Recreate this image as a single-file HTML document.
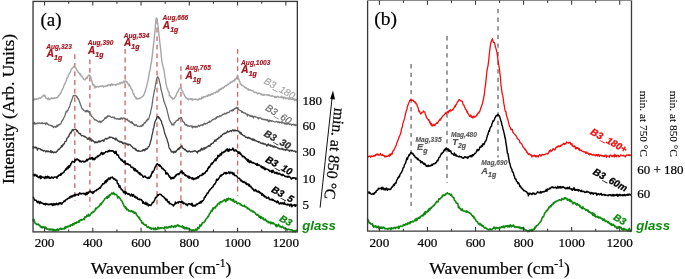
<!DOCTYPE html><html><head><meta charset="utf-8"><style>html,body{margin:0;padding:0;background:#fff;}svg{display:block;filter:blur(0.4px)}</style></head><body>
<svg width="685" height="279" viewBox="0 0 685 279">
<rect width="685" height="279" fill="#fff"/>
<line x1="74.80" y1="54.3" x2="74.80" y2="201" stroke="#cf6466" stroke-width="1.3" stroke-dasharray="4.8,3.8"/>
<line x1="89.90" y1="59.4" x2="89.90" y2="206.5" stroke="#cf6466" stroke-width="1.3" stroke-dasharray="4.8,3.8"/>
<line x1="125.10" y1="49" x2="125.10" y2="195.6" stroke="#cf6466" stroke-width="1.3" stroke-dasharray="4.8,3.8"/>
<line x1="157.00" y1="19" x2="157.00" y2="208.5" stroke="#cf6466" stroke-width="1.3" stroke-dasharray="4.8,3.8"/>
<line x1="180.90" y1="66.2" x2="180.90" y2="212.8" stroke="#cf6466" stroke-width="1.3" stroke-dasharray="4.8,3.8"/>
<line x1="237.60" y1="49" x2="237.60" y2="196" stroke="#cf6466" stroke-width="1.3" stroke-dasharray="4.8,3.8"/>
<line x1="411.10" y1="64.1" x2="411.10" y2="210.5" stroke="#7e7e7e" stroke-width="1.5" stroke-dasharray="4.3,4.3"/>
<line x1="447.00" y1="36.1" x2="447.00" y2="183" stroke="#7e7e7e" stroke-width="1.5" stroke-dasharray="4.3,4.3"/>
<line x1="498.00" y1="9.0" x2="498.00" y2="157.5" stroke="#7e7e7e" stroke-width="1.5" stroke-dasharray="4.3,4.3"/>
<path d="M32.90,99.97 33.40,100.09 33.90,99.73 34.40,98.79 34.90,99.77 35.40,99.42 35.90,98.81 36.40,99.24 36.90,99.01 37.40,98.85 37.90,98.61 38.40,98.77 38.90,98.03 39.40,98.22 39.90,97.94 40.40,98.35 40.90,97.90 41.40,97.54 41.90,96.97 42.40,96.54 42.90,95.85 43.40,95.06 43.90,95.67 44.40,96.08 44.90,95.24 45.40,96.69 45.90,98.17 46.40,98.16 46.90,98.56 47.40,98.64 47.90,99.64 48.40,98.07 48.90,98.47 49.40,99.71 49.90,99.02 50.40,99.03 50.90,98.43 51.40,97.83 51.90,98.70 52.40,98.62 52.90,97.88 53.40,98.08 53.90,98.29 54.40,97.75 54.90,98.06 55.40,98.03 55.90,97.86 56.40,97.44 56.90,97.82 57.40,97.65 57.90,96.91 58.40,95.78 58.90,95.91 59.40,94.60 59.90,94.58 60.40,92.86 60.90,92.99 61.40,91.57 61.90,89.93 62.40,89.34 62.90,88.45 63.40,87.49 63.90,85.73 64.40,84.49 64.90,83.94 65.40,82.39 65.90,81.54 66.40,80.61 66.90,78.22 67.40,77.94 67.90,77.19 68.40,75.23 68.90,73.85 69.40,73.63 69.90,72.50 70.40,71.93 70.90,70.40 71.40,68.95 71.90,68.81 72.40,67.92 72.90,67.92 73.40,67.19 73.90,66.03 74.40,66.23 74.90,67.52 75.40,67.89 75.90,67.88 76.40,68.96 76.90,70.01 77.40,70.84 77.90,71.82 78.40,72.19 78.90,72.71 79.40,73.35 79.90,74.74 80.40,73.81 80.90,75.57 81.40,76.31 81.90,76.18 82.40,77.63 82.90,77.76 83.40,79.09 83.90,79.06 84.40,79.71 84.90,79.96 85.40,79.30 85.90,78.25 86.40,77.42 86.90,78.50 87.40,77.04 87.90,76.18 88.40,75.88 88.90,75.06 89.40,75.24 89.90,75.18 90.40,76.40 90.90,77.70 91.40,79.94 91.90,80.75 92.40,83.31 92.90,85.09 93.40,84.35 93.90,84.57 94.40,86.68 94.90,88.03 95.40,86.40 95.90,86.26 96.40,87.16 96.90,86.40 97.40,86.52 97.90,86.54 98.40,86.92 98.90,86.40 99.40,86.69 99.90,86.42 100.40,86.05 100.90,86.29 101.40,85.96 101.90,86.41 102.40,85.83 102.90,85.82 103.40,87.07 103.90,86.28 104.40,86.23 104.90,86.45 105.40,85.90 105.90,85.89 106.40,86.11 106.90,85.92 107.40,85.07 107.90,85.94 108.40,85.11 108.90,84.75 109.40,84.72 109.90,84.88 110.40,85.81 110.90,84.35 111.40,84.96 111.90,83.76 112.40,84.78 112.90,85.18 113.40,84.56 113.90,84.32 114.40,84.69 114.90,84.86 115.40,84.78 115.90,85.36 116.40,84.41 116.90,83.93 117.40,84.08 117.90,84.01 118.40,84.00 118.90,83.81 119.40,83.77 119.90,82.66 120.40,83.69 120.90,82.75 121.40,82.20 121.90,82.87 122.40,82.94 122.90,82.20 123.40,81.72 123.90,80.93 124.40,82.74 124.90,81.79 125.40,80.93 125.90,81.31 126.40,81.99 126.90,81.52 127.40,82.94 127.90,83.32 128.40,84.89 128.90,85.45 129.40,84.31 129.90,86.42 130.40,86.35 130.90,88.52 131.40,88.91 131.90,90.02 132.40,90.22 132.90,92.74 133.40,93.98 133.90,93.62 134.40,95.79 134.90,96.63 135.40,97.46 135.90,97.24 136.40,99.15 136.90,98.00 137.40,98.54 137.90,99.08 138.40,98.57 138.90,98.76 139.40,98.47 139.90,98.47 140.40,97.66 140.90,97.70 141.40,97.47 141.90,97.02 142.40,96.72 142.90,95.94 143.40,95.76 143.90,94.41 144.40,93.53 144.90,91.99 145.40,90.55 145.90,88.51 146.40,87.62 146.90,84.85 147.40,82.81 147.90,80.94 148.40,78.50 148.90,75.60 149.40,72.18 149.90,70.74 150.40,68.03 150.90,64.47 151.40,62.54 151.90,58.49 152.40,54.44 152.90,50.05 153.40,45.50 153.90,41.51 154.40,36.10 154.90,32.31 155.40,25.63 155.90,20.32 156.40,17.94 156.90,18.35 157.40,21.57 157.90,24.65 158.40,29.29 158.90,34.29 159.40,38.23 159.90,43.11 160.40,46.85 160.90,51.57 161.40,57.13 161.90,61.57 162.40,63.93 162.90,65.61 163.40,68.26 163.90,69.47 164.40,72.84 164.90,76.71 165.40,79.35 165.90,83.09 166.40,85.47 166.90,87.81 167.40,88.52 167.90,90.10 168.40,91.91 168.90,91.83 169.40,95.92 169.90,95.23 170.40,96.19 170.90,97.63 171.40,97.68 171.90,97.26 172.40,98.84 172.90,99.21 173.40,98.67 173.90,98.64 174.40,98.59 174.90,97.20 175.40,97.00 175.90,95.91 176.40,94.47 176.90,93.16 177.40,92.80 177.90,91.26 178.40,90.90 178.90,89.30 179.40,88.82 179.90,88.27 180.40,88.42 180.90,88.07 181.40,89.22 181.90,90.74 182.40,90.96 182.90,92.12 183.40,93.42 183.90,94.16 184.40,94.94 184.90,96.19 185.40,96.70 185.90,98.13 186.40,97.84 186.90,98.40 187.40,99.06 187.90,98.73 188.40,99.81 188.90,98.88 189.40,98.85 189.90,99.12 190.40,99.29 190.90,98.69 191.40,99.41 191.90,98.63 192.40,100.19 192.90,99.48 193.40,99.22 193.90,99.10 194.40,99.38 194.90,99.47 195.40,99.07 195.90,99.14 196.40,99.51 196.90,99.32 197.40,100.00 197.90,100.02 198.40,99.36 198.90,99.45 199.40,98.40 199.90,99.22 200.40,98.70 200.90,98.76 201.40,99.11 201.90,96.95 202.40,98.01 202.90,97.11 203.40,97.74 203.90,96.58 204.40,96.78 204.90,96.94 205.40,96.96 205.90,96.50 206.40,95.88 206.90,95.81 207.40,96.34 207.90,95.70 208.40,94.67 208.90,95.73 209.40,95.32 209.90,95.34 210.40,94.53 210.90,94.90 211.40,93.74 211.90,94.34 212.40,93.59 212.90,93.94 213.40,93.88 213.90,92.77 214.40,92.87 214.90,92.67 215.40,93.00 215.90,92.50 216.40,91.27 216.90,91.83 217.40,91.69 217.90,92.08 218.40,89.87 218.90,90.13 219.40,90.74 219.90,89.07 220.40,88.82 220.90,89.34 221.40,89.25 221.90,88.06 222.40,88.32 222.90,87.77 223.40,88.12 223.90,87.02 224.40,87.18 224.90,85.89 225.40,85.92 225.90,85.64 226.40,85.93 226.90,85.34 227.40,84.36 227.90,84.77 228.40,84.50 228.90,83.75 229.40,83.37 229.90,83.09 230.40,82.03 230.90,82.66 231.40,82.37 231.90,81.53 232.40,82.05 232.90,80.69 233.40,80.77 233.90,80.44 234.40,81.26 234.90,78.99 235.40,79.53 235.90,79.10 236.40,77.91 236.90,77.20 237.40,75.73 237.90,76.02 238.40,78.94 238.90,79.22 239.40,81.06 239.90,81.97 240.40,84.09 240.90,84.60 241.40,84.31 241.90,85.54 242.40,85.51 242.90,85.71 243.40,86.13 243.90,86.33 244.40,87.09 244.90,87.28 245.40,87.29 245.90,88.29 246.40,87.79 246.90,88.54 247.40,88.89 247.90,89.69 248.40,88.95 248.90,90.32 249.40,89.78 249.90,89.83 250.40,89.83 250.90,90.68 251.40,90.64 251.90,90.28 252.40,90.49 252.90,90.98 253.40,91.13 253.90,92.21 254.40,92.54 254.90,92.48 255.40,92.41 255.90,92.19 256.40,92.60 256.90,93.18 257.40,93.96 257.90,93.50 258.40,93.05 258.90,93.35 259.40,93.22 259.90,93.20 260.40,93.62 260.90,93.93 261.40,94.86 261.90,94.08 262.40,94.84 262.90,95.15 263.40,94.41 263.90,95.27 264.40,94.92 264.90,94.45 265.40,94.89 265.90,94.86 266.40,94.82 266.90,94.93 267.40,95.19 267.90,95.43 268.40,94.86 268.90,95.39 269.40,94.72 269.90,95.70 270.40,95.97 270.90,95.83 271.40,95.98 271.90,96.22 272.40,95.68 272.90,95.97 273.40,96.43 273.90,96.76 274.40,96.54 274.90,97.70 275.40,96.46 275.90,97.09 276.40,97.30 276.90,96.68 277.40,96.41 277.90,96.31 278.40,97.06 278.90,97.61 279.40,97.27 279.90,97.30 280.40,97.10 280.90,97.65 281.40,96.38 281.90,97.64 282.40,97.61 282.90,96.99 283.40,98.84 283.90,97.14 284.40,97.37 284.90,97.39 285.40,98.62 285.90,97.70 286.40,98.55 286.90,98.58 287.40,98.50 287.90,97.79 288.40,98.21 288.90,99.43 289.40,98.02 289.90,98.33 290.40,98.73 290.90,99.29 291.40,99.09 291.90,99.41 292.40,98.58 292.90,99.66 293.40,99.54 293.90,98.53 294.40,100.17 294.90,100.62 295.40,99.16 295.90,99.64 296.40,100.39 296.90,99.02" fill="none" stroke="#a6a6a6" stroke-width="1.4" stroke-linejoin="round"/>
<path d="M32.90,123.79 33.40,123.37 33.90,123.37 34.40,122.30 34.90,124.37 35.40,124.00 35.90,123.23 36.40,123.74 36.90,123.47 37.40,123.02 37.90,123.77 38.40,123.11 38.90,123.08 39.40,122.84 39.90,123.45 40.40,123.17 40.90,123.48 41.40,122.90 41.90,123.27 42.40,122.75 42.90,123.62 43.40,123.29 43.90,123.37 44.40,123.43 44.90,122.79 45.40,123.78 45.90,124.54 46.40,122.84 46.90,122.97 47.40,123.26 47.90,124.62 48.40,124.46 48.90,125.13 49.40,125.14 49.90,125.07 50.40,125.30 50.90,125.31 51.40,126.10 51.90,125.39 52.40,126.02 52.90,126.60 53.40,127.59 53.90,126.45 54.40,126.36 54.90,126.59 55.40,127.25 55.90,126.49 56.40,127.05 56.90,125.19 57.40,126.41 57.90,126.08 58.40,124.53 58.90,124.93 59.40,125.00 59.90,123.91 60.40,123.78 60.90,123.83 61.40,122.10 61.90,121.11 62.40,120.11 62.90,120.04 63.40,118.78 63.90,117.77 64.40,116.65 64.90,115.82 65.40,113.77 65.90,112.44 66.40,111.02 66.90,111.97 67.40,110.59 67.90,110.49 68.40,108.89 68.90,107.61 69.40,107.19 69.90,105.68 70.40,103.51 70.90,101.94 71.40,101.57 71.90,99.42 72.40,98.24 72.90,96.68 73.40,95.53 73.90,95.95 74.40,95.48 74.90,95.25 75.40,95.71 75.90,95.51 76.40,96.34 76.90,97.31 77.40,97.01 77.90,98.92 78.40,98.73 78.90,100.27 79.40,101.11 79.90,102.82 80.40,104.29 80.90,105.57 81.40,107.04 81.90,108.44 82.40,109.21 82.90,109.12 83.40,109.97 83.90,110.44 84.40,110.82 84.90,110.80 85.40,111.81 85.90,110.83 86.40,110.52 86.90,111.77 87.40,110.44 87.90,111.68 88.40,111.11 88.90,112.26 89.40,111.62 89.90,113.71 90.40,113.95 90.90,114.37 91.40,116.50 91.90,116.76 92.40,117.01 92.90,117.20 93.40,118.11 93.90,118.59 94.40,119.52 94.90,120.01 95.40,119.67 95.90,120.11 96.40,120.51 96.90,120.44 97.40,121.08 97.90,121.45 98.40,121.85 98.90,122.16 99.40,121.10 99.90,121.78 100.40,121.28 100.90,122.54 101.40,121.48 101.90,121.74 102.40,120.83 102.90,120.47 103.40,120.42 103.90,119.51 104.40,119.27 104.90,117.80 105.40,118.49 105.90,117.25 106.40,118.10 106.90,116.67 107.40,117.03 107.90,115.56 108.40,116.42 108.90,115.80 109.40,116.10 109.90,116.49 110.40,116.48 110.90,116.94 111.40,117.34 111.90,117.47 112.40,117.31 112.90,116.90 113.40,117.42 113.90,117.94 114.40,117.16 114.90,118.72 115.40,118.35 115.90,118.46 116.40,119.16 116.90,119.12 117.40,118.98 117.90,118.44 118.40,119.14 118.90,119.17 119.40,118.55 119.90,119.47 120.40,119.14 120.90,117.82 121.40,118.77 121.90,117.98 122.40,119.09 122.90,118.84 123.40,117.81 123.90,117.87 124.40,118.35 124.90,118.26 125.40,119.36 125.90,119.29 126.40,119.16 126.90,119.99 127.40,119.08 127.90,120.60 128.40,121.16 128.90,120.90 129.40,120.88 129.90,121.77 130.40,122.72 130.90,122.11 131.40,121.73 131.90,123.32 132.40,122.04 132.90,123.68 133.40,123.62 133.90,124.84 134.40,124.35 134.90,125.72 135.40,125.39 135.90,124.55 136.40,124.60 136.90,125.58 137.40,126.52 137.90,126.06 138.40,126.13 138.90,126.07 139.40,126.62 139.90,126.48 140.40,126.44 140.90,125.70 141.40,126.50 141.90,126.18 142.40,124.38 142.90,125.71 143.40,124.49 143.90,123.46 144.40,122.31 144.90,123.11 145.40,122.55 145.90,121.43 146.40,120.23 146.90,121.04 147.40,119.49 147.90,118.79 148.40,119.60 148.90,118.28 149.40,116.60 149.90,114.63 150.40,113.51 150.90,110.00 151.40,108.87 151.90,105.88 152.40,102.35 152.90,98.53 153.40,96.26 153.90,93.27 154.40,90.73 154.90,88.66 155.40,85.52 155.90,82.92 156.40,80.00 156.90,78.35 157.40,77.37 157.90,76.72 158.40,78.05 158.90,78.84 159.40,81.33 159.90,83.44 160.40,85.27 160.90,89.00 161.40,90.86 161.90,92.47 162.40,94.76 162.90,97.21 163.40,98.53 163.90,101.35 164.40,102.17 164.90,104.04 165.40,104.98 165.90,106.56 166.40,107.67 166.90,109.49 167.40,111.90 167.90,113.96 168.40,115.87 168.90,117.73 169.40,120.01 169.90,120.98 170.40,121.45 170.90,122.84 171.40,122.98 171.90,124.76 172.40,124.83 172.90,124.11 173.40,125.09 173.90,124.78 174.40,122.53 174.90,122.90 175.40,122.42 175.90,121.13 176.40,120.93 176.90,120.30 177.40,120.32 177.90,119.56 178.40,120.20 178.90,118.26 179.40,118.64 179.90,117.86 180.40,117.99 180.90,117.58 181.40,117.71 181.90,118.91 182.40,120.34 182.90,121.39 183.40,121.61 183.90,122.42 184.40,122.65 184.90,124.65 185.40,125.16 185.90,124.53 186.40,125.01 186.90,124.76 187.40,126.20 187.90,125.86 188.40,125.80 188.90,126.21 189.40,126.39 189.90,126.10 190.40,125.81 190.90,125.90 191.40,125.77 191.90,126.95 192.40,127.90 192.90,125.99 193.40,126.94 193.90,127.10 194.40,126.41 194.90,126.99 195.40,126.29 195.90,127.38 196.40,126.41 196.90,126.65 197.40,126.83 197.90,126.14 198.40,125.32 198.90,125.79 199.40,126.27 199.90,125.67 200.40,125.64 200.90,124.79 201.40,125.21 201.90,125.30 202.40,124.75 202.90,125.48 203.40,124.22 203.90,123.61 204.40,123.12 204.90,124.31 205.40,123.52 205.90,123.85 206.40,123.36 206.90,123.73 207.40,123.32 207.90,122.26 208.40,122.34 208.90,122.50 209.40,121.08 209.90,122.16 210.40,121.78 210.90,121.40 211.40,120.54 211.90,120.52 212.40,119.54 212.90,119.85 213.40,119.26 213.90,119.33 214.40,118.78 214.90,118.90 215.40,119.09 215.90,117.59 216.40,118.46 216.90,116.75 217.40,116.41 217.90,117.17 218.40,116.98 218.90,116.93 219.40,115.63 219.90,116.17 220.40,116.00 220.90,116.31 221.40,115.37 221.90,115.43 222.40,114.42 222.90,114.56 223.40,114.18 223.90,114.50 224.40,113.41 224.90,113.24 225.40,113.71 225.90,114.08 226.40,113.14 226.90,112.87 227.40,112.32 227.90,112.82 228.40,112.33 228.90,112.71 229.40,111.80 229.90,110.94 230.40,110.92 230.90,110.50 231.40,110.14 231.90,111.18 232.40,110.70 232.90,109.40 233.40,110.60 233.90,109.51 234.40,108.60 234.90,108.98 235.40,108.51 235.90,107.96 236.40,107.26 236.90,108.22 237.40,108.50 237.90,107.37 238.40,109.35 238.90,109.86 239.40,109.78 239.90,110.49 240.40,110.64 240.90,110.71 241.40,111.29 241.90,112.49 242.40,111.42 242.90,112.57 243.40,112.83 243.90,112.65 244.40,113.03 244.90,112.78 245.40,113.28 245.90,113.94 246.40,114.30 246.90,113.89 247.40,116.06 247.90,114.44 248.40,114.98 248.90,114.98 249.40,115.08 249.90,116.11 250.40,115.40 250.90,116.49 251.40,116.57 251.90,115.65 252.40,116.87 252.90,116.20 253.40,118.06 253.90,116.66 254.40,116.55 254.90,116.23 255.40,116.69 255.90,117.20 256.40,117.14 256.90,117.17 257.40,117.58 257.90,117.96 258.40,118.92 258.90,117.47 259.40,118.17 259.90,118.09 260.40,117.93 260.90,118.16 261.40,118.45 261.90,119.37 262.40,119.02 262.90,118.95 263.40,119.63 263.90,119.56 264.40,119.41 264.90,119.81 265.40,119.30 265.90,120.12 266.40,120.13 266.90,119.79 267.40,119.48 267.90,120.95 268.40,120.33 268.90,121.91 269.40,120.15 269.90,121.01 270.40,120.46 270.90,120.91 271.40,121.30 271.90,120.58 272.40,121.03 272.90,121.26 273.40,121.34 273.90,121.68 274.40,121.99 274.90,121.99 275.40,121.81 275.90,121.60 276.40,121.30 276.90,121.60 277.40,121.80 277.90,122.50 278.40,122.07 278.90,121.72 279.40,122.75 279.90,122.13 280.40,122.24 280.90,122.59 281.40,123.03 281.90,121.68 282.40,122.41 282.90,123.15 283.40,122.97 283.90,122.81 284.40,123.06 284.90,124.11 285.40,123.27 285.90,123.94 286.40,124.07 286.90,123.53 287.40,124.06 287.90,123.70 288.40,123.70 288.90,123.53 289.40,124.61 289.90,124.06 290.40,124.06 290.90,123.86 291.40,125.41 291.90,124.95 292.40,124.60 292.90,124.39 293.40,124.06 293.90,125.04 294.40,125.12 294.90,124.35 295.40,125.71 295.90,125.59 296.40,124.80 296.90,125.08" fill="none" stroke="#666666" stroke-width="1.25" stroke-linejoin="round"/>
<path d="M32.90,148.62 33.40,146.16 33.90,147.87 34.40,147.41 34.90,147.57 35.40,147.79 35.90,146.90 36.40,148.00 36.90,147.76 37.40,150.18 37.90,148.60 38.40,148.41 38.90,148.61 39.40,148.56 39.90,148.53 40.40,149.09 40.90,149.77 41.40,149.57 41.90,150.42 42.40,149.96 42.90,150.26 43.40,151.24 43.90,150.82 44.40,150.36 44.90,150.65 45.40,151.15 45.90,152.01 46.40,150.89 46.90,150.99 47.40,151.77 47.90,150.81 48.40,151.23 48.90,151.97 49.40,151.90 49.90,151.74 50.40,152.18 50.90,150.37 51.40,152.61 51.90,151.63 52.40,151.35 52.90,152.51 53.40,152.81 53.90,152.23 54.40,151.91 54.90,152.46 55.40,152.20 55.90,152.66 56.40,151.88 56.90,151.11 57.40,151.14 57.90,149.97 58.40,149.17 58.90,149.59 59.40,149.17 59.90,148.30 60.40,147.55 60.90,147.64 61.40,145.66 61.90,146.91 62.40,146.27 62.90,144.53 63.40,144.86 63.90,143.63 64.40,143.84 64.90,141.52 65.40,141.33 65.90,141.39 66.40,140.80 66.90,138.13 67.40,138.13 67.90,137.64 68.40,136.17 68.90,136.46 69.40,134.07 69.90,134.12 70.40,132.57 70.90,133.18 71.40,131.70 71.90,130.90 72.40,129.60 72.90,130.89 73.40,129.86 73.90,129.51 74.40,129.63 74.90,129.36 75.40,129.15 75.90,129.50 76.40,130.00 76.90,131.67 77.40,130.57 77.90,131.58 78.40,132.30 78.90,133.18 79.40,133.92 79.90,133.40 80.40,133.52 80.90,134.78 81.40,135.73 81.90,135.73 82.40,135.66 82.90,135.59 83.40,136.15 83.90,136.08 84.40,136.90 84.90,136.26 85.40,137.02 85.90,137.13 86.40,137.73 86.90,137.80 87.40,139.33 87.90,139.00 88.40,139.26 88.90,137.58 89.40,138.80 89.90,138.95 90.40,139.88 90.90,138.64 91.40,140.83 91.90,141.04 92.40,139.99 92.90,140.44 93.40,140.81 93.90,141.53 94.40,142.06 94.90,142.97 95.40,141.79 95.90,142.31 96.40,141.95 96.90,142.79 97.40,142.18 97.90,142.46 98.40,141.03 98.90,141.43 99.40,140.99 99.90,142.17 100.40,141.59 100.90,140.95 101.40,140.75 101.90,141.14 102.40,140.33 102.90,140.00 103.40,140.54 103.90,141.37 104.40,139.62 104.90,139.19 105.40,138.61 105.90,138.30 106.40,139.13 106.90,139.10 107.40,138.43 107.90,138.40 108.40,138.08 108.90,137.93 109.40,136.88 109.90,137.38 110.40,137.66 110.90,137.19 111.40,137.42 111.90,137.32 112.40,137.70 112.90,138.48 113.40,137.93 113.90,138.23 114.40,138.92 114.90,139.00 115.40,139.79 115.90,137.97 116.40,139.88 116.90,139.45 117.40,140.09 117.90,140.78 118.40,141.20 118.90,141.43 119.40,141.16 119.90,142.17 120.40,141.33 120.90,141.60 121.40,142.31 121.90,141.75 122.40,143.43 122.90,142.98 123.40,143.81 123.90,142.79 124.40,142.79 124.90,143.29 125.40,143.79 125.90,143.25 126.40,143.96 126.90,143.92 127.40,145.00 127.90,143.93 128.40,145.06 128.90,144.33 129.40,144.36 129.90,144.73 130.40,144.70 130.90,145.70 131.40,146.46 131.90,146.29 132.40,146.94 132.90,148.02 133.40,147.87 133.90,148.41 134.40,148.68 134.90,148.36 135.40,149.94 135.90,148.83 136.40,150.43 136.90,150.31 137.40,151.17 137.90,150.72 138.40,150.49 138.90,151.29 139.40,150.90 139.90,151.18 140.40,151.32 140.90,151.20 141.40,151.11 141.90,150.65 142.40,150.87 142.90,149.63 143.40,150.53 143.90,149.74 144.40,150.79 144.90,150.64 145.40,148.62 145.90,149.53 146.40,149.11 146.90,148.28 147.40,148.77 147.90,147.78 148.40,146.53 148.90,146.59 149.40,145.58 149.90,144.29 150.40,141.78 150.90,140.80 151.40,138.75 151.90,135.59 152.40,133.65 152.90,131.46 153.40,128.60 153.90,127.40 154.40,124.43 154.90,122.14 155.40,120.72 155.90,119.65 156.40,119.63 156.90,117.23 157.40,116.75 157.90,116.79 158.40,116.69 158.90,118.42 159.40,117.53 159.90,119.03 160.40,119.59 160.90,120.76 161.40,120.81 161.90,123.80 162.40,124.39 162.90,126.26 163.40,127.58 163.90,129.53 164.40,131.97 164.90,133.75 165.40,135.04 165.90,136.64 166.40,137.71 166.90,138.73 167.40,140.68 167.90,142.22 168.40,143.89 168.90,146.91 169.40,148.37 169.90,148.77 170.40,149.33 170.90,150.68 171.40,151.98 171.90,151.34 172.40,151.79 172.90,152.02 173.40,152.87 173.90,151.16 174.40,152.24 174.90,152.49 175.40,151.10 175.90,152.03 176.40,151.11 176.90,150.10 177.40,150.06 177.90,148.65 178.40,148.73 178.90,149.60 179.40,147.53 179.90,148.31 180.40,146.61 180.90,146.86 181.40,146.50 181.90,145.80 182.40,147.45 182.90,148.51 183.40,148.23 183.90,148.56 184.40,149.91 184.90,149.71 185.40,149.43 185.90,150.20 186.40,151.25 186.90,150.69 187.40,151.64 187.90,152.12 188.40,151.42 188.90,150.88 189.40,150.85 189.90,151.58 190.40,152.08 190.90,151.75 191.40,151.90 191.90,151.36 192.40,151.77 192.90,151.34 193.40,151.42 193.90,150.89 194.40,150.74 194.90,151.33 195.40,150.99 195.90,151.07 196.40,151.95 196.90,151.47 197.40,153.03 197.90,151.81 198.40,150.79 198.90,151.38 199.40,150.93 199.90,150.13 200.40,150.88 200.90,149.60 201.40,148.09 201.90,149.96 202.40,148.94 202.90,149.86 203.40,148.46 203.90,147.93 204.40,149.18 204.90,147.48 205.40,147.91 205.90,148.32 206.40,147.31 206.90,146.91 207.40,146.71 207.90,146.81 208.40,145.59 208.90,146.05 209.40,145.71 209.90,146.35 210.40,144.54 210.90,143.87 211.40,144.41 211.90,143.40 212.40,143.39 212.90,142.90 213.40,143.07 213.90,141.66 214.40,141.56 214.90,139.81 215.40,140.32 215.90,141.27 216.40,139.65 216.90,139.22 217.40,138.51 217.90,139.06 218.40,138.39 218.90,137.19 219.40,137.75 219.90,137.07 220.40,136.89 220.90,135.68 221.40,136.55 221.90,135.40 222.40,134.70 222.90,134.08 223.40,133.86 223.90,134.12 224.40,133.17 224.90,133.62 225.40,133.08 225.90,133.27 226.40,132.78 226.90,132.13 227.40,130.95 227.90,132.01 228.40,132.12 228.90,131.62 229.40,131.68 229.90,130.97 230.40,130.88 230.90,130.44 231.40,131.58 231.90,130.80 232.40,130.33 232.90,129.77 233.40,130.33 233.90,131.12 234.40,130.51 234.90,129.80 235.40,130.94 235.90,130.91 236.40,130.64 236.90,130.54 237.40,130.89 237.90,130.86 238.40,131.41 238.90,131.05 239.40,132.79 239.90,132.55 240.40,133.94 240.90,132.13 241.40,134.08 241.90,134.67 242.40,134.37 242.90,135.20 243.40,135.72 243.90,135.94 244.40,135.61 244.90,136.11 245.40,137.02 245.90,137.43 246.40,137.04 246.90,137.27 247.40,137.58 247.90,138.28 248.40,137.36 248.90,137.43 249.40,138.45 249.90,137.99 250.40,138.48 250.90,139.06 251.40,139.47 251.90,138.82 252.40,140.04 252.90,138.81 253.40,140.27 253.90,139.29 254.40,139.64 254.90,140.87 255.40,140.47 255.90,140.44 256.40,140.81 256.90,141.48 257.40,141.37 257.90,141.56 258.40,142.34 258.90,141.54 259.40,141.85 259.90,142.00 260.40,143.11 260.90,143.19 261.40,143.52 261.90,142.97 262.40,143.07 262.90,143.80 263.40,143.28 263.90,144.13 264.40,144.23 264.90,143.62 265.40,144.12 265.90,144.27 266.40,145.45 266.90,146.08 267.40,144.76 267.90,144.98 268.40,143.88 268.90,145.40 269.40,145.44 269.90,145.00 270.40,146.18 270.90,145.04 271.40,145.93 271.90,146.27 272.40,145.65 272.90,146.95 273.40,147.20 273.90,146.00 274.40,146.13 274.90,147.37 275.40,147.16 275.90,146.64 276.40,147.28 276.90,147.51 277.40,147.62 277.90,148.28 278.40,148.16 278.90,149.04 279.40,148.94 279.90,148.68 280.40,149.02 280.90,149.27 281.40,149.04 281.90,148.09 282.40,149.35 282.90,149.03 283.40,149.99 283.90,149.26 284.40,149.60 284.90,149.60 285.40,150.45 285.90,149.72 286.40,149.58 286.90,150.00 287.40,149.69 287.90,150.12 288.40,150.12 288.90,150.37 289.40,151.37 289.90,150.19 290.40,150.52 290.90,150.48 291.40,151.05 291.90,150.12 292.40,150.47 292.90,150.92 293.40,151.32 293.90,151.08 294.40,150.91 294.90,150.78 295.40,151.62 295.90,152.21 296.40,151.66 296.90,151.66" fill="none" stroke="#3c3c3c" stroke-width="1.3" stroke-linejoin="round"/>
<path d="M32.90,173.98 33.40,174.54 33.90,175.98 34.40,175.57 34.90,174.30 35.40,175.59 35.90,175.39 36.40,176.09 36.90,175.12 37.40,176.49 37.90,176.63 38.40,177.63 38.90,176.95 39.40,177.20 39.90,176.03 40.40,178.59 40.90,175.99 41.40,178.06 41.90,177.22 42.40,176.93 42.90,177.13 43.40,177.15 43.90,177.85 44.40,177.53 44.90,178.56 45.40,176.41 45.90,177.60 46.40,177.02 46.90,178.10 47.40,176.22 47.90,177.38 48.40,177.74 48.90,176.64 49.40,178.24 49.90,177.72 50.40,178.25 50.90,178.22 51.40,176.96 51.90,177.08 52.40,177.47 52.90,178.09 53.40,178.15 53.90,177.14 54.40,177.21 54.90,177.06 55.40,177.11 55.90,177.19 56.40,177.06 56.90,178.25 57.40,176.31 57.90,176.16 58.40,176.33 58.90,175.09 59.40,175.14 59.90,175.07 60.40,175.24 60.90,173.51 61.40,174.85 61.90,173.29 62.40,173.17 62.90,173.14 63.40,172.54 63.90,172.27 64.40,171.14 64.90,170.44 65.40,170.09 65.90,168.68 66.40,169.59 66.90,167.81 67.40,167.03 67.90,168.74 68.40,166.86 68.90,165.73 69.40,167.21 69.90,165.26 70.40,165.57 70.90,163.73 71.40,163.50 71.90,162.01 72.40,161.37 72.90,161.51 73.40,161.66 73.90,161.82 74.40,162.43 74.90,159.71 75.40,160.66 75.90,159.41 76.40,159.74 76.90,159.00 77.40,159.19 77.90,159.86 78.40,159.80 78.90,160.74 79.40,160.37 79.90,161.72 80.40,161.07 80.90,161.14 81.40,161.84 81.90,161.49 82.40,161.17 82.90,161.18 83.40,161.19 83.90,161.99 84.40,161.81 84.90,161.51 85.40,161.63 85.90,160.49 86.40,160.85 86.90,159.26 87.40,160.73 87.90,159.60 88.40,159.27 88.90,159.15 89.40,158.45 89.90,158.14 90.40,159.09 90.90,158.44 91.40,157.84 91.90,158.79 92.40,157.46 92.90,159.68 93.40,158.45 93.90,158.44 94.40,159.65 94.90,159.28 95.40,157.61 95.90,157.57 96.40,157.51 96.90,157.55 97.40,156.07 97.90,155.98 98.40,156.43 98.90,155.56 99.40,155.62 99.90,155.27 100.40,153.89 100.90,153.82 101.40,152.43 101.90,153.74 102.40,154.55 102.90,152.74 103.40,154.05 103.90,153.69 104.40,152.80 104.90,152.61 105.40,152.44 105.90,151.60 106.40,151.75 106.90,151.68 107.40,151.90 107.90,151.82 108.40,150.66 108.90,151.54 109.40,150.39 109.90,150.71 110.40,151.04 110.90,150.81 111.40,150.81 111.90,151.18 112.40,150.78 112.90,150.87 113.40,151.33 113.90,152.29 114.40,151.87 114.90,153.51 115.40,152.79 115.90,151.15 116.40,153.25 116.90,155.08 117.40,154.53 117.90,154.87 118.40,155.27 118.90,157.41 119.40,157.89 119.90,158.32 120.40,158.75 120.90,159.98 121.40,160.15 121.90,159.36 122.40,161.18 122.90,161.26 123.40,161.51 123.90,162.47 124.40,162.35 124.90,160.76 125.40,163.99 125.90,163.95 126.40,163.48 126.90,163.59 127.40,164.25 127.90,163.53 128.40,164.84 128.90,164.76 129.40,164.97 129.90,164.90 130.40,165.37 130.90,166.87 131.40,167.38 131.90,167.23 132.40,167.32 132.90,167.31 133.40,168.90 133.90,170.05 134.40,168.49 134.90,170.78 135.40,169.01 135.90,170.58 136.40,171.41 136.90,170.61 137.40,170.83 137.90,172.25 138.40,173.01 138.90,172.44 139.40,173.93 139.90,172.87 140.40,174.84 140.90,174.12 141.40,174.55 141.90,175.17 142.40,175.35 142.90,176.71 143.40,177.30 143.90,176.57 144.40,176.43 144.90,176.08 145.40,176.62 145.90,177.35 146.40,177.51 146.90,177.78 147.40,178.01 147.90,178.47 148.40,177.32 148.90,177.40 149.40,178.41 149.90,177.64 150.40,176.00 150.90,176.34 151.40,174.14 151.90,173.48 152.40,171.55 152.90,172.45 153.40,170.99 153.90,170.62 154.40,169.21 154.90,167.61 155.40,166.51 155.90,166.16 156.40,164.45 156.90,163.91 157.40,163.85 157.90,164.41 158.40,164.70 158.90,165.68 159.40,164.80 159.90,166.15 160.40,165.43 160.90,166.79 161.40,167.01 161.90,168.55 162.40,168.32 162.90,168.17 163.40,169.40 163.90,169.85 164.40,170.03 164.90,170.66 165.40,170.87 165.90,173.89 166.40,172.79 166.90,173.92 167.40,173.08 167.90,173.74 168.40,175.01 168.90,175.69 169.40,176.97 169.90,176.41 170.40,177.93 170.90,178.95 171.40,177.60 171.90,178.81 172.40,177.50 172.90,178.15 173.40,177.88 173.90,178.43 174.40,176.48 174.90,176.64 175.40,176.81 175.90,174.98 176.40,175.38 176.90,174.39 177.40,174.00 177.90,174.37 178.40,173.85 178.90,174.58 179.40,173.37 179.90,172.99 180.40,171.86 180.90,171.75 181.40,172.14 181.90,170.79 182.40,173.65 182.90,172.50 183.40,172.65 183.90,173.46 184.40,174.74 184.90,175.36 185.40,174.69 185.90,175.66 186.40,175.80 186.90,175.64 187.40,176.79 187.90,176.99 188.40,176.19 188.90,178.11 189.40,176.57 189.90,177.94 190.40,177.28 190.90,177.60 191.40,177.82 191.90,178.86 192.40,177.70 192.90,178.48 193.40,179.68 193.90,178.25 194.40,178.69 194.90,179.09 195.40,178.17 195.90,178.69 196.40,177.74 196.90,178.37 197.40,177.67 197.90,176.72 198.40,177.93 198.90,176.63 199.40,176.19 199.90,175.47 200.40,175.47 200.90,175.40 201.40,175.26 201.90,175.52 202.40,173.60 202.90,173.85 203.40,174.47 203.90,173.40 204.40,173.12 204.90,173.44 205.40,172.13 205.90,171.67 206.40,170.74 206.90,171.27 207.40,170.14 207.90,168.31 208.40,168.45 208.90,166.67 209.40,167.46 209.90,166.56 210.40,165.42 210.90,164.67 211.40,163.17 211.90,164.24 212.40,163.08 212.90,162.38 213.40,162.48 213.90,161.01 214.40,160.51 214.90,159.90 215.40,158.94 215.90,160.86 216.40,158.66 216.90,158.05 217.40,158.36 217.90,155.23 218.40,156.77 218.90,156.32 219.40,155.22 219.90,155.71 220.40,153.66 220.90,154.57 221.40,154.74 221.90,152.31 222.40,152.39 222.90,152.82 223.40,152.51 223.90,151.71 224.40,152.01 224.90,151.61 225.40,150.29 225.90,150.86 226.40,149.91 226.90,149.25 227.40,148.89 227.90,151.00 228.40,150.12 228.90,151.36 229.40,149.03 229.90,149.66 230.40,150.02 230.90,149.64 231.40,150.00 231.90,149.73 232.40,149.20 232.90,148.08 233.40,149.00 233.90,150.85 234.40,150.39 234.90,151.00 235.40,149.97 235.90,150.48 236.40,150.29 236.90,151.37 237.40,151.44 237.90,152.02 238.40,153.22 238.90,151.89 239.40,153.30 239.90,152.32 240.40,154.40 240.90,153.87 241.40,154.62 241.90,155.27 242.40,156.76 242.90,156.16 243.40,156.33 243.90,156.32 244.40,157.71 244.90,157.40 245.40,158.05 245.90,158.77 246.40,159.62 246.90,159.10 247.40,160.36 247.90,161.41 248.40,159.60 248.90,161.76 249.40,162.57 249.90,161.07 250.40,162.13 250.90,161.11 251.40,162.49 251.90,162.31 252.40,162.97 252.90,162.42 253.40,162.72 253.90,163.20 254.40,163.26 254.90,163.55 255.40,164.05 255.90,163.68 256.40,164.53 256.90,165.16 257.40,163.57 257.90,165.43 258.40,165.04 258.90,165.02 259.40,165.10 259.90,165.64 260.40,165.93 260.90,166.86 261.40,166.03 261.90,167.75 262.40,166.75 262.90,167.94 263.40,168.42 263.90,167.13 264.40,168.83 264.90,169.77 265.40,168.27 265.90,169.15 266.40,168.90 266.90,169.25 267.40,169.28 267.90,169.28 268.40,170.29 268.90,170.59 269.40,170.22 269.90,171.41 270.40,171.34 270.90,171.29 271.40,170.57 271.90,172.48 272.40,172.31 272.90,170.25 273.40,171.13 273.90,171.75 274.40,172.87 274.90,173.26 275.40,172.46 275.90,173.01 276.40,173.49 276.90,172.40 277.40,173.80 277.90,173.39 278.40,173.89 278.90,173.91 279.40,173.34 279.90,173.63 280.40,174.46 280.90,174.67 281.40,174.57 281.90,175.58 282.40,174.81 282.90,174.40 283.40,175.11 283.90,175.37 284.40,175.55 284.90,176.53 285.40,176.25 285.90,176.74 286.40,176.60 286.90,176.23 287.40,177.15 287.90,176.44 288.40,176.90 288.90,176.22 289.40,177.06 289.90,176.91 290.40,177.49 290.90,178.55 291.40,179.03 291.90,178.27 292.40,177.71 292.90,178.38 293.40,178.10 293.90,177.66 294.40,178.12 294.90,178.11 295.40,177.98 295.90,179.36 296.40,178.21 296.90,178.33" fill="none" stroke="#000000" stroke-width="1.5" stroke-linejoin="round"/>
<path d="M32.90,196.98 33.40,197.26 33.90,198.54 34.40,199.50 34.90,200.45 35.40,200.21 35.90,200.19 36.40,200.41 36.90,201.74 37.40,202.61 37.90,201.98 38.40,201.25 38.90,201.66 39.40,203.54 39.90,202.83 40.40,201.76 40.90,203.01 41.40,202.47 41.90,202.96 42.40,203.20 42.90,203.19 43.40,204.16 43.90,203.91 44.40,203.70 44.90,204.48 45.40,204.88 45.90,203.38 46.40,204.37 46.90,203.98 47.40,204.55 47.90,203.86 48.40,204.71 48.90,204.68 49.40,204.50 49.90,204.02 50.40,204.44 50.90,203.99 51.40,203.82 51.90,204.85 52.40,203.98 52.90,205.46 53.40,205.17 53.90,203.40 54.40,204.88 54.90,203.98 55.40,204.72 55.90,204.70 56.40,203.30 56.90,204.33 57.40,204.17 57.90,204.80 58.40,203.24 58.90,204.31 59.40,202.94 59.90,203.24 60.40,202.69 60.90,203.93 61.40,203.09 61.90,204.03 62.40,202.59 62.90,202.43 63.40,202.15 63.90,200.91 64.40,200.93 64.90,201.51 65.40,200.02 65.90,200.04 66.40,199.54 66.90,199.59 67.40,198.61 67.90,198.42 68.40,198.38 68.90,198.02 69.40,197.13 69.90,198.03 70.40,196.37 70.90,196.21 71.40,195.93 71.90,197.19 72.40,196.12 72.90,195.53 73.40,195.24 73.90,196.08 74.40,194.95 74.90,194.64 75.40,195.69 75.90,194.35 76.40,194.76 76.90,194.80 77.40,194.37 77.90,194.48 78.40,195.25 78.90,193.93 79.40,193.34 79.90,192.88 80.40,193.87 80.90,193.72 81.40,194.07 81.90,193.56 82.40,193.52 82.90,193.34 83.40,193.44 83.90,193.86 84.40,193.48 84.90,193.76 85.40,194.89 85.90,193.91 86.40,192.52 86.90,194.58 87.40,193.45 87.90,192.27 88.40,193.09 88.90,192.14 89.40,191.44 89.90,191.29 90.40,191.09 90.90,191.89 91.40,192.71 91.90,191.96 92.40,192.55 92.90,193.51 93.40,191.42 93.90,192.22 94.40,191.62 94.90,190.84 95.40,190.51 95.90,190.78 96.40,190.66 96.90,189.60 97.40,189.53 97.90,189.51 98.40,188.80 98.90,188.75 99.40,188.06 99.90,187.61 100.40,187.98 100.90,186.66 101.40,185.78 101.90,185.59 102.40,183.97 102.90,183.78 103.40,183.98 103.90,183.36 104.40,183.47 104.90,182.04 105.40,180.70 105.90,182.53 106.40,181.58 106.90,179.78 107.40,180.97 107.90,179.71 108.40,178.13 108.90,178.69 109.40,178.30 109.90,179.38 110.40,177.58 110.90,177.72 111.40,177.55 111.90,177.39 112.40,177.01 112.90,177.89 113.40,178.83 113.90,179.05 114.40,178.60 114.90,178.97 115.40,180.19 115.90,180.02 116.40,180.48 116.90,180.31 117.40,183.46 117.90,183.87 118.40,183.86 118.90,186.26 119.40,187.52 119.90,185.82 120.40,187.68 120.90,188.40 121.40,189.64 121.90,189.66 122.40,190.06 122.90,190.60 123.40,192.24 123.90,192.80 124.40,191.39 124.90,191.45 125.40,194.10 125.90,191.99 126.40,192.52 126.90,193.18 127.40,193.72 127.90,194.31 128.40,194.12 128.90,193.51 129.40,194.60 129.90,194.63 130.40,195.87 130.90,194.83 131.40,194.16 131.90,194.54 132.40,196.37 132.90,195.30 133.40,194.53 133.90,195.78 134.40,196.43 134.90,197.48 135.40,196.32 135.90,197.68 136.40,198.01 136.90,197.27 137.40,197.82 137.90,199.31 138.40,199.50 138.90,199.16 139.40,199.07 139.90,199.85 140.40,199.31 140.90,199.68 141.40,199.58 141.90,200.58 142.40,200.98 142.90,203.31 143.40,201.83 143.90,203.20 144.40,203.59 144.90,202.94 145.40,204.16 145.90,202.33 146.40,204.15 146.90,204.97 147.40,203.16 147.90,204.23 148.40,205.89 148.90,205.21 149.40,204.76 149.90,205.25 150.40,204.97 150.90,205.40 151.40,204.68 151.90,203.55 152.40,202.59 152.90,202.27 153.40,202.49 153.90,201.19 154.40,200.63 154.90,199.32 155.40,197.77 155.90,197.37 156.40,197.57 156.90,196.66 157.40,195.55 157.90,194.64 158.40,195.34 158.90,194.66 159.40,194.33 159.90,194.12 160.40,194.40 160.90,194.43 161.40,195.11 161.90,195.49 162.40,196.28 162.90,196.52 163.40,196.39 163.90,197.15 164.40,198.02 164.90,198.02 165.40,199.11 165.90,200.06 166.40,199.34 166.90,199.25 167.40,201.70 167.90,201.42 168.40,202.32 168.90,201.44 169.40,203.86 169.90,203.63 170.40,203.46 170.90,203.69 171.40,204.35 171.90,204.56 172.40,204.86 172.90,204.55 173.40,206.07 173.90,204.94 174.40,204.58 174.90,204.11 175.40,202.10 175.90,203.70 176.40,202.95 176.90,202.78 177.40,202.83 177.90,201.98 178.40,203.01 178.90,201.87 179.40,201.62 179.90,201.55 180.40,202.15 180.90,202.49 181.40,201.63 181.90,201.15 182.40,203.05 182.90,201.96 183.40,203.75 183.90,203.25 184.40,203.11 184.90,203.36 185.40,204.20 185.90,204.60 186.40,204.00 186.90,204.85 187.40,205.68 187.90,204.27 188.40,203.74 188.90,203.87 189.40,203.72 189.90,204.26 190.40,204.26 190.90,203.92 191.40,205.18 191.90,203.19 192.40,204.08 192.90,206.29 193.40,205.69 193.90,205.39 194.40,205.37 194.90,206.24 195.40,205.45 195.90,205.12 196.40,204.14 196.90,204.69 197.40,203.99 197.90,203.69 198.40,203.33 198.90,203.40 199.40,202.83 199.90,203.24 200.40,201.44 200.90,201.78 201.40,202.66 201.90,201.00 202.40,201.25 202.90,200.68 203.40,200.24 203.90,199.30 204.40,197.33 204.90,197.45 205.40,196.74 205.90,195.28 206.40,195.23 206.90,193.93 207.40,192.86 207.90,193.29 208.40,192.35 208.90,191.19 209.40,190.33 209.90,189.92 210.40,189.36 210.90,188.71 211.40,188.30 211.90,187.42 212.40,187.33 212.90,186.78 213.40,186.04 213.90,184.73 214.40,184.10 214.90,184.11 215.40,182.98 215.90,182.32 216.40,179.95 216.90,179.03 217.40,180.22 217.90,179.46 218.40,179.43 218.90,178.31 219.40,177.37 219.90,176.70 220.40,175.30 220.90,176.34 221.40,174.93 221.90,175.22 222.40,174.61 222.90,174.28 223.40,174.34 223.90,173.15 224.40,172.96 224.90,172.47 225.40,172.65 225.90,173.89 226.40,172.49 226.90,173.43 227.40,173.13 227.90,173.02 228.40,173.04 228.90,171.84 229.40,172.76 229.90,173.59 230.40,172.18 230.90,172.70 231.40,172.40 231.90,173.18 232.40,172.43 232.90,174.41 233.40,173.41 233.90,172.97 234.40,175.46 234.90,175.28 235.40,175.38 235.90,175.81 236.40,175.67 236.90,176.19 237.40,177.23 237.90,177.79 238.40,178.25 238.90,178.24 239.40,178.27 239.90,178.91 240.40,180.22 240.90,180.89 241.40,180.18 241.90,180.52 242.40,182.04 242.90,182.08 243.40,182.42 243.90,181.44 244.40,182.35 244.90,182.54 245.40,183.28 245.90,182.31 246.40,184.49 246.90,184.12 247.40,184.48 247.90,183.72 248.40,184.78 248.90,186.01 249.40,184.50 249.90,186.13 250.40,186.82 250.90,186.36 251.40,187.80 251.90,187.52 252.40,188.98 252.90,188.95 253.40,189.15 253.90,190.67 254.40,190.23 254.90,190.83 255.40,189.48 255.90,190.09 256.40,191.30 256.90,191.59 257.40,191.21 257.90,192.01 258.40,191.08 258.90,192.20 259.40,191.62 259.90,192.92 260.40,192.72 260.90,192.96 261.40,193.77 261.90,195.26 262.40,193.78 262.90,194.39 263.40,195.81 263.90,195.16 264.40,196.90 264.90,196.21 265.40,196.43 265.90,196.91 266.40,198.12 266.90,197.71 267.40,197.91 267.90,198.02 268.40,197.12 268.90,197.82 269.40,199.62 269.90,199.43 270.40,199.45 270.90,199.76 271.40,199.21 271.90,199.99 272.40,199.39 272.90,200.43 273.40,199.91 273.90,200.43 274.40,201.06 274.90,200.75 275.40,201.58 275.90,201.66 276.40,201.80 276.90,202.63 277.40,201.01 277.90,201.13 278.40,202.76 278.90,203.15 279.40,204.02 279.90,203.37 280.40,203.57 280.90,202.60 281.40,203.80 281.90,203.88 282.40,202.89 282.90,203.12 283.40,203.75 283.90,204.13 284.40,202.15 284.90,204.22 285.40,204.43 285.90,204.27 286.40,204.66 286.90,204.89 287.40,204.03 287.90,205.05 288.40,204.71 288.90,204.35 289.40,205.19 289.90,206.11 290.40,204.28 290.90,204.24 291.40,204.32 291.90,206.76 292.40,205.39 292.90,205.60 293.40,205.20 293.90,205.17 294.40,204.54 294.90,206.03 295.40,206.16 295.90,204.77 296.40,205.43 296.90,205.68" fill="none" stroke="#000000" stroke-width="1.5" stroke-linejoin="round"/>
<path d="M32.90,219.13 33.40,220.77 33.90,219.14 34.40,221.39 34.90,222.76 35.40,223.51 35.90,223.54 36.40,224.43 36.90,224.05 37.40,224.53 37.90,224.60 38.40,224.14 38.90,224.57 39.40,225.59 39.90,225.30 40.40,226.69 40.90,226.97 41.40,227.54 41.90,226.69 42.40,227.78 42.90,226.62 43.40,226.88 43.90,227.61 44.40,227.91 44.90,226.96 45.40,227.05 45.90,228.47 46.40,227.90 46.90,229.30 47.40,228.97 47.90,229.06 48.40,229.14 48.90,229.67 49.40,229.16 49.90,230.01 50.40,229.13 50.90,229.39 51.40,229.18 51.90,230.00 52.40,229.71 52.90,229.22 53.40,230.99 53.90,229.61 54.40,229.79 54.90,230.12 55.40,230.94 55.90,229.81 56.40,230.31 56.90,229.90 57.40,228.91 57.90,230.19 58.40,230.24 58.90,229.38 59.40,229.41 59.90,228.40 60.40,228.26 60.90,228.82 61.40,229.30 61.90,228.52 62.40,228.85 62.90,229.13 63.40,228.47 63.90,228.61 64.40,228.97 64.90,227.19 65.40,228.22 65.90,226.46 66.40,227.67 66.90,227.34 67.40,226.70 67.90,226.18 68.40,226.58 68.90,226.17 69.40,226.26 69.90,225.42 70.40,226.05 70.90,224.85 71.40,225.03 71.90,224.72 72.40,225.46 72.90,223.55 73.40,223.95 73.90,224.66 74.40,223.31 74.90,222.71 75.40,223.37 75.90,222.78 76.40,223.20 76.90,221.89 77.40,222.31 77.90,222.34 78.40,222.30 78.90,220.75 79.40,222.01 79.90,220.35 80.40,219.72 80.90,219.79 81.40,220.20 81.90,219.65 82.40,219.84 82.90,219.61 83.40,219.23 83.90,218.60 84.40,219.56 84.90,216.85 85.40,216.84 85.90,217.26 86.40,216.49 86.90,215.37 87.40,216.08 87.90,215.76 88.40,214.37 88.90,215.98 89.40,215.86 89.90,215.42 90.40,213.97 90.90,213.96 91.40,212.77 91.90,213.13 92.40,212.14 92.90,212.32 93.40,211.38 93.90,211.72 94.40,211.10 94.90,210.84 95.40,208.64 95.90,208.01 96.40,208.84 96.90,207.74 97.40,207.81 97.90,207.22 98.40,206.62 98.90,206.53 99.40,205.77 99.90,205.16 100.40,203.75 100.90,204.72 101.40,203.14 101.90,203.10 102.40,202.01 102.90,201.98 103.40,200.73 103.90,200.23 104.40,199.68 104.90,198.69 105.40,198.30 105.90,198.11 106.40,197.69 106.90,196.74 107.40,198.33 107.90,195.93 108.40,195.94 108.90,197.18 109.40,194.89 109.90,195.36 110.40,194.97 110.90,194.21 111.40,193.32 111.90,193.11 112.40,193.93 112.90,194.10 113.40,192.51 113.90,193.92 114.40,193.57 114.90,194.73 115.40,194.57 115.90,194.27 116.40,194.77 116.90,195.35 117.40,196.47 117.90,197.86 118.40,196.66 118.90,196.98 119.40,197.87 119.90,198.14 120.40,199.30 120.90,199.97 121.40,200.58 121.90,200.92 122.40,202.31 122.90,203.64 123.40,204.07 123.90,205.85 124.40,206.37 124.90,206.51 125.40,208.29 125.90,207.11 126.40,208.97 126.90,209.83 127.40,208.98 127.90,209.46 128.40,210.43 128.90,211.06 129.40,210.77 129.90,210.94 130.40,211.59 130.90,211.43 131.40,210.76 131.90,211.57 132.40,211.88 132.90,211.20 133.40,212.56 133.90,212.12 134.40,213.28 134.90,212.21 135.40,212.85 135.90,212.83 136.40,214.84 136.90,215.24 137.40,215.89 137.90,216.61 138.40,217.11 138.90,218.03 139.40,217.41 139.90,219.52 140.40,219.83 140.90,220.64 141.40,220.78 141.90,222.97 142.40,222.92 142.90,222.54 143.40,224.29 143.90,224.43 144.40,224.29 144.90,225.15 145.40,225.26 145.90,224.72 146.40,225.51 146.90,227.02 147.40,227.18 147.90,227.35 148.40,226.71 148.90,227.27 149.40,227.88 149.90,228.46 150.40,227.72 150.90,227.75 151.40,229.20 151.90,228.65 152.40,228.45 152.90,228.26 153.40,228.30 153.90,229.63 154.40,229.24 154.90,228.39 155.40,227.85 155.90,229.58 156.40,229.48 156.90,229.23 157.40,228.98 157.90,227.30 158.40,227.61 158.90,228.67 159.40,228.11 159.90,228.37 160.40,227.85 160.90,227.71 161.40,228.38 161.90,227.76 162.40,227.95 162.90,228.06 163.40,228.00 163.90,228.51 164.40,228.59 164.90,226.90 165.40,227.51 165.90,227.23 166.40,228.02 166.90,226.87 167.40,227.91 167.90,227.80 168.40,227.66 168.90,226.65 169.40,227.03 169.90,226.43 170.40,227.23 170.90,227.48 171.40,225.91 171.90,226.25 172.40,226.56 172.90,226.26 173.40,227.38 173.90,226.30 174.40,226.43 174.90,225.51 175.40,227.02 175.90,226.13 176.40,226.46 176.90,226.05 177.40,224.74 177.90,225.07 178.40,225.28 178.90,226.37 179.40,225.82 179.90,226.42 180.40,226.38 180.90,226.45 181.40,227.00 181.90,226.74 182.40,225.85 182.90,226.65 183.40,228.27 183.90,226.82 184.40,228.46 184.90,228.80 185.40,227.63 185.90,228.36 186.40,227.49 186.90,228.96 187.40,228.20 187.90,228.05 188.40,228.77 188.90,228.92 189.40,229.03 189.90,229.67 190.40,229.62 190.90,229.47 191.40,230.55 191.90,231.53 192.40,230.21 192.90,229.84 193.40,229.74 193.90,230.76 194.40,230.31 194.90,230.50 195.40,229.30 195.90,229.70 196.40,229.41 196.90,230.29 197.40,229.08 197.90,227.21 198.40,228.40 198.90,228.20 199.40,227.72 199.90,224.72 200.40,226.00 200.90,225.89 201.40,225.25 201.90,224.22 202.40,222.75 202.90,223.02 203.40,222.52 203.90,222.48 204.40,221.93 204.90,220.78 205.40,220.79 205.90,218.96 206.40,218.47 206.90,218.12 207.40,217.73 207.90,216.43 208.40,216.59 208.90,215.34 209.40,213.78 209.90,213.65 210.40,212.29 210.90,211.45 211.40,210.38 211.90,211.30 212.40,210.27 212.90,208.08 213.40,209.09 213.90,208.46 214.40,207.18 214.90,207.25 215.40,207.86 215.90,206.29 216.40,205.98 216.90,206.02 217.40,204.34 217.90,203.82 218.40,203.34 218.90,203.73 219.40,203.90 219.90,202.46 220.40,201.77 220.90,202.35 221.40,201.67 221.90,201.95 222.40,201.23 222.90,200.94 223.40,200.76 223.90,200.59 224.40,199.78 224.90,199.48 225.40,200.94 225.90,201.70 226.40,200.41 226.90,198.64 227.40,199.53 227.90,200.13 228.40,198.36 228.90,198.98 229.40,198.99 229.90,198.69 230.40,198.80 230.90,200.03 231.40,199.32 231.90,199.66 232.40,201.05 232.90,199.75 233.40,199.34 233.90,201.12 234.40,202.22 234.90,201.46 235.40,201.86 235.90,201.25 236.40,201.81 236.90,203.58 237.40,203.75 237.90,203.61 238.40,203.14 238.90,203.06 239.40,203.39 239.90,203.56 240.40,204.87 240.90,204.27 241.40,204.68 241.90,205.64 242.40,205.87 242.90,205.74 243.40,206.24 243.90,206.20 244.40,205.27 244.90,206.62 245.40,206.65 245.90,206.94 246.40,207.55 246.90,207.33 247.40,208.69 247.90,208.14 248.40,208.65 248.90,209.09 249.40,209.15 249.90,210.02 250.40,210.47 250.90,210.79 251.40,210.37 251.90,210.64 252.40,211.20 252.90,211.93 253.40,211.14 253.90,212.10 254.40,212.25 254.90,212.87 255.40,213.05 255.90,214.42 256.40,214.52 256.90,215.15 257.40,214.30 257.90,214.75 258.40,215.35 258.90,216.85 259.40,217.18 259.90,216.11 260.40,217.17 260.90,218.39 261.40,216.79 261.90,217.60 262.40,218.80 262.90,218.76 263.40,218.03 263.90,219.85 264.40,219.83 264.90,219.97 265.40,219.13 265.90,220.10 266.40,221.31 266.90,221.12 267.40,221.62 267.90,221.28 268.40,222.63 268.90,221.85 269.40,222.80 269.90,222.68 270.40,222.13 270.90,223.81 271.40,222.37 271.90,222.88 272.40,223.60 272.90,222.86 273.40,222.80 273.90,224.00 274.40,224.01 274.90,224.29 275.40,224.96 275.90,226.21 276.40,224.80 276.90,226.73 277.40,225.60 277.90,225.60 278.40,224.23 278.90,225.13 279.40,226.40 279.90,226.77 280.40,226.12 280.90,226.99 281.40,227.54 281.90,226.84 282.40,226.39 282.90,226.96 283.40,227.55 283.90,228.08 284.40,228.56 284.90,227.71 285.40,228.46 285.90,228.46 286.40,228.83 286.90,229.66 287.40,229.98 287.90,229.11 288.40,229.21 288.90,229.34 289.40,229.60 289.90,229.81 290.40,230.07 290.90,229.96 291.40,229.69 291.90,229.69 292.40,230.49 292.90,231.98 293.40,230.90 293.90,231.00 294.40,230.87 294.90,230.60 295.40,231.93 295.90,230.56 296.40,230.18 296.90,230.04" fill="none" stroke="#0f8a0f" stroke-width="1.6" stroke-linejoin="round"/>
<path d="M367.40,157.00 367.90,157.11 368.40,156.65 368.90,156.17 369.40,156.37 369.90,155.94 370.40,156.54 370.90,157.29 371.40,156.02 371.90,155.85 372.40,156.50 372.90,156.33 373.40,156.08 373.90,155.33 374.40,155.82 374.90,156.19 375.40,154.76 375.90,155.24 376.40,154.20 376.90,154.50 377.40,154.05 377.90,155.01 378.40,154.27 378.90,155.22 379.40,155.11 379.90,154.88 380.40,153.39 380.90,154.75 381.40,155.17 381.90,155.41 382.40,154.50 382.90,155.35 383.40,155.20 383.90,155.48 384.40,156.85 384.90,155.77 385.40,156.38 385.90,157.05 386.40,156.12 386.90,156.39 387.40,156.43 387.90,156.23 388.40,155.17 388.90,155.75 389.40,156.28 389.90,154.06 390.40,155.27 390.90,154.42 391.40,153.41 391.90,154.48 392.40,152.94 392.90,150.88 393.40,150.87 393.90,150.23 394.40,148.68 394.90,148.16 395.40,146.56 395.90,145.87 396.40,145.15 396.90,142.54 397.40,141.89 397.90,140.26 398.40,139.45 398.90,137.35 399.40,136.41 399.90,135.18 400.40,134.27 400.90,132.72 401.40,129.33 401.90,127.85 402.40,126.92 402.90,123.24 403.40,122.20 403.90,120.37 404.40,119.18 404.90,116.79 405.40,114.17 405.90,112.23 406.40,110.36 406.90,109.62 407.40,106.58 407.90,105.09 408.40,104.12 408.90,102.55 409.40,101.52 409.90,100.23 410.40,100.34 410.90,99.63 411.40,100.56 411.90,100.31 412.40,100.03 412.90,100.69 413.40,100.32 413.90,101.67 414.40,101.55 414.90,102.59 415.40,102.06 415.90,103.92 416.40,103.54 416.90,104.35 417.40,106.55 417.90,107.21 418.40,109.01 418.90,111.68 419.40,111.01 419.90,112.30 420.40,113.62 420.90,114.01 421.40,113.17 421.90,112.48 422.40,112.52 422.90,112.14 423.40,110.93 423.90,111.45 424.40,111.86 424.90,112.28 425.40,114.61 425.90,115.23 426.40,117.42 426.90,117.86 427.40,118.69 427.90,119.09 428.40,120.17 428.90,119.75 429.40,121.16 429.90,122.97 430.40,122.15 430.90,124.80 431.40,123.70 431.90,125.75 432.40,124.93 432.90,125.98 433.40,125.42 433.90,124.11 434.40,125.65 434.90,125.49 435.40,124.23 435.90,123.79 436.40,123.51 436.90,122.60 437.40,123.54 437.90,122.04 438.40,121.87 438.90,120.82 439.40,120.29 439.90,119.20 440.40,120.15 440.90,118.54 441.40,118.60 441.90,117.36 442.40,116.34 442.90,116.06 443.40,115.39 443.90,115.26 444.40,114.52 444.90,114.10 445.40,112.95 445.90,112.90 446.40,114.11 446.90,112.23 447.40,111.66 447.90,112.28 448.40,112.72 448.90,110.63 449.40,111.23 449.90,110.74 450.40,109.79 450.90,111.19 451.40,110.45 451.90,110.22 452.40,109.37 452.90,109.78 453.40,108.65 453.90,108.26 454.40,106.86 454.90,105.93 455.40,106.70 455.90,104.63 456.40,104.34 456.90,103.32 457.40,102.13 457.90,101.14 458.40,101.04 458.90,99.81 459.40,99.61 459.90,99.79 460.40,100.81 460.90,100.89 461.40,101.15 461.90,101.11 462.40,101.38 462.90,103.86 463.40,104.87 463.90,105.09 464.40,106.49 464.90,107.65 465.40,108.71 465.90,109.81 466.40,109.93 466.90,112.18 467.40,111.29 467.90,113.47 468.40,113.94 468.90,114.86 469.40,116.13 469.90,116.42 470.40,115.17 470.90,115.23 471.40,117.27 471.90,116.44 472.40,117.36 472.90,118.04 473.40,116.40 473.90,115.98 474.40,117.34 474.90,116.96 475.40,116.50 475.90,116.39 476.40,115.45 476.90,114.54 477.40,114.82 477.90,113.61 478.40,112.41 478.90,113.00 479.40,111.76 479.90,111.10 480.40,109.10 480.90,108.10 481.40,106.51 481.90,105.06 482.40,104.06 482.90,101.23 483.40,99.30 483.90,96.33 484.40,94.19 484.90,88.28 485.40,85.86 485.90,81.10 486.40,76.63 486.90,71.31 487.40,68.20 487.90,66.29 488.40,62.95 488.90,58.57 489.40,53.33 489.90,49.21 490.40,45.40 490.90,41.98 491.40,41.71 491.90,39.93 492.40,38.69 492.90,40.68 493.40,42.42 493.90,42.30 494.40,42.67 494.90,44.29 495.40,47.23 495.90,48.31 496.40,50.21 496.90,52.44 497.40,55.37 497.90,59.55 498.40,62.95 498.90,66.09 499.40,68.72 499.90,73.50 500.40,77.15 500.90,84.47 501.40,87.92 501.90,91.80 502.40,94.38 502.90,95.86 503.40,100.51 503.90,103.88 504.40,106.32 504.90,109.68 505.40,111.55 505.90,111.47 506.40,115.07 506.90,116.60 507.40,118.52 507.90,119.62 508.40,121.97 508.90,123.73 509.40,126.13 509.90,126.82 510.40,127.61 510.90,129.51 511.40,128.97 511.90,129.82 512.40,129.59 512.90,132.47 513.40,132.76 513.90,133.45 514.40,134.03 514.90,134.40 515.40,135.18 515.90,135.59 516.40,136.33 516.90,137.20 517.40,138.87 517.90,138.97 518.40,139.31 518.90,139.73 519.40,140.47 519.90,142.71 520.40,142.79 520.90,143.30 521.40,143.83 521.90,144.12 522.40,145.60 522.90,147.03 523.40,147.04 523.90,147.95 524.40,148.72 524.90,149.64 525.40,149.18 525.90,150.70 526.40,150.91 526.90,152.63 527.40,152.11 527.90,153.49 528.40,154.55 528.90,153.73 529.40,153.87 529.90,154.71 530.40,154.90 530.90,154.56 531.40,155.77 531.90,157.02 532.40,155.73 532.90,155.90 533.40,155.41 533.90,156.30 534.40,155.27 534.90,155.32 535.40,156.83 535.90,155.35 536.40,156.58 536.90,156.80 537.40,155.90 537.90,156.02 538.40,156.85 538.90,155.39 539.40,155.06 539.90,154.50 540.40,155.34 540.90,156.20 541.40,155.79 541.90,154.48 542.40,154.45 542.90,154.59 543.40,155.00 543.90,154.57 544.40,154.71 544.90,154.60 545.40,154.02 545.90,153.95 546.40,153.84 546.90,153.36 547.40,153.44 547.90,154.01 548.40,152.86 548.90,152.19 549.40,150.75 549.90,151.81 550.40,150.01 550.90,150.08 551.40,151.27 551.90,150.89 552.40,150.05 552.90,148.75 553.40,149.34 553.90,148.85 554.40,149.42 554.90,150.18 555.40,148.56 555.90,147.61 556.40,147.05 556.90,147.46 557.40,147.07 557.90,146.13 558.40,146.66 558.90,145.56 559.40,146.77 559.90,146.51 560.40,146.30 560.90,145.09 561.40,145.54 561.90,144.93 562.40,144.57 562.90,144.41 563.40,143.58 563.90,143.27 564.40,144.47 564.90,143.56 565.40,143.57 565.90,143.85 566.40,141.90 566.90,142.40 567.40,142.91 567.90,142.96 568.40,142.39 568.90,143.27 569.40,142.83 569.90,142.22 570.40,142.87 570.90,144.50 571.40,144.73 571.90,143.55 572.40,146.02 572.90,145.88 573.40,146.71 573.90,145.92 574.40,146.31 574.90,146.09 575.40,148.78 575.90,147.32 576.40,148.76 576.90,147.60 577.40,148.42 577.90,147.53 578.40,148.67 578.90,149.86 579.40,148.74 579.90,150.59 580.40,150.45 580.90,149.90 581.40,150.58 581.90,150.92 582.40,151.47 582.90,151.41 583.40,151.43 583.90,151.98 584.40,151.70 584.90,151.70 585.40,152.68 585.90,153.45 586.40,152.03 586.90,153.18 587.40,152.90 587.90,152.84 588.40,154.17 588.90,153.43 589.40,154.89 589.90,153.56 590.40,154.46 590.90,154.20 591.40,154.00 591.90,155.00 592.40,154.63 592.90,155.23 593.40,154.90 593.90,154.31 594.40,155.03 594.90,155.20 595.40,155.87 595.90,154.73 596.40,155.37 596.90,154.34 597.40,155.96 597.90,154.90 598.40,154.49 598.90,155.69 599.40,156.50 599.90,154.85 600.40,155.18 600.90,155.45 601.40,155.24 601.90,156.26 602.40,155.52 602.90,155.60 603.40,156.46 603.90,155.60 604.40,156.38 604.90,155.47 605.40,155.31 605.90,154.91 606.40,157.31 606.90,155.89 607.40,156.26 607.90,156.08 608.40,156.20 608.90,156.13 609.40,157.34 609.90,155.42 610.40,155.09 610.90,155.44 611.40,155.23 611.90,156.59 612.40,156.63 612.90,155.48 613.40,155.20 613.90,155.87 614.40,157.00 614.90,154.27 615.40,156.44 615.90,155.40 616.40,156.78 616.90,155.40 617.40,155.91 617.90,155.12 618.40,155.46 618.90,156.98 619.40,156.60 619.90,155.79 620.40,155.46 620.90,154.78 621.40,155.72 621.90,155.93 622.40,155.86 622.90,155.82 623.40,155.11 623.90,155.76 624.40,155.73 624.90,156.55 625.40,156.88 625.90,155.53 626.40,155.07 626.90,155.47 627.40,155.07 627.90,154.92 628.40,155.31 628.90,154.62 629.40,155.63 629.90,155.11 630.40,155.28 630.90,154.94 631.40,154.53" fill="none" stroke="#f01010" stroke-width="1.3" stroke-linejoin="round"/>
<path d="M367.40,191.46 367.90,191.97 368.40,192.22 368.90,193.05 369.40,192.04 369.90,193.38 370.40,192.93 370.90,194.04 371.40,194.07 371.90,194.34 372.40,193.96 372.90,193.47 373.40,194.02 373.90,194.32 374.40,192.72 374.90,193.01 375.40,192.08 375.90,192.42 376.40,190.58 376.90,190.48 377.40,190.40 377.90,189.85 378.40,188.26 378.90,189.08 379.40,188.53 379.90,188.36 380.40,188.41 380.90,188.65 381.40,187.46 381.90,189.51 382.40,188.10 382.90,187.32 383.40,188.67 383.90,189.64 384.40,188.51 384.90,189.85 385.40,189.99 385.90,188.69 386.40,187.89 386.90,188.79 387.40,190.37 387.90,189.26 388.40,188.89 388.90,188.95 389.40,189.58 389.90,189.28 390.40,189.45 390.90,189.10 391.40,187.49 391.90,187.50 392.40,186.42 392.90,186.53 393.40,185.10 393.90,184.32 394.40,185.52 394.90,183.48 395.40,183.04 395.90,183.31 396.40,181.36 396.90,179.91 397.40,179.09 397.90,177.73 398.40,177.99 398.90,176.33 399.40,176.80 399.90,174.74 400.40,173.92 400.90,173.00 401.40,172.68 401.90,171.34 402.40,170.85 402.90,168.44 403.40,167.66 403.90,167.40 404.40,164.89 404.90,164.15 405.40,163.56 405.90,161.76 406.40,159.90 406.90,157.95 407.40,159.51 407.90,157.23 408.40,156.72 408.90,154.85 409.40,155.54 409.90,154.09 410.40,153.27 410.90,152.39 411.40,153.19 411.90,153.03 412.40,153.72 412.90,153.43 413.40,154.62 413.90,155.59 414.40,155.34 414.90,156.72 415.40,157.60 415.90,157.48 416.40,157.73 416.90,158.16 417.40,159.50 417.90,158.41 418.40,159.54 418.90,159.84 419.40,160.55 419.90,160.79 420.40,160.54 420.90,162.80 421.40,162.07 421.90,161.55 422.40,162.21 422.90,163.19 423.40,163.87 423.90,163.04 424.40,164.59 424.90,163.62 425.40,164.23 425.90,165.49 426.40,166.26 426.90,165.42 427.40,165.47 427.90,166.53 428.40,165.16 428.90,165.94 429.40,165.84 429.90,166.21 430.40,165.66 430.90,165.18 431.40,165.56 431.90,164.36 432.40,165.34 432.90,164.23 433.40,163.82 433.90,163.83 434.40,163.74 434.90,163.76 435.40,162.81 435.90,162.95 436.40,162.60 436.90,161.37 437.40,160.20 437.90,160.65 438.40,159.54 438.90,157.38 439.40,157.29 439.90,157.13 440.40,155.32 440.90,154.83 441.40,153.32 441.90,153.75 442.40,152.90 442.90,152.12 443.40,152.15 443.90,150.39 444.40,149.84 444.90,150.78 445.40,148.46 445.90,149.38 446.40,147.92 446.90,148.75 447.40,149.95 447.90,149.14 448.40,148.96 448.90,151.36 449.40,150.09 449.90,150.74 450.40,151.56 450.90,151.10 451.40,153.09 451.90,153.87 452.40,153.81 452.90,154.00 453.40,154.15 453.90,155.15 454.40,153.06 454.90,155.13 455.40,155.59 455.90,154.45 456.40,156.07 456.90,155.91 457.40,156.11 457.90,156.33 458.40,156.75 458.90,156.81 459.40,156.04 459.90,156.70 460.40,156.75 460.90,156.96 461.40,156.64 461.90,157.61 462.40,157.85 462.90,158.01 463.40,158.27 463.90,158.05 464.40,156.90 464.90,156.82 465.40,156.96 465.90,157.54 466.40,157.12 466.90,157.77 467.40,158.14 467.90,156.85 468.40,157.64 468.90,156.76 469.40,156.17 469.90,156.09 470.40,156.56 470.90,155.41 471.40,156.54 471.90,156.76 472.40,154.73 472.90,154.79 473.40,155.50 473.90,154.40 474.40,153.92 474.90,153.25 475.40,153.60 475.90,152.75 476.40,151.44 476.90,150.14 477.40,149.43 477.90,150.83 478.40,149.64 478.90,150.01 479.40,148.79 479.90,147.06 480.40,147.37 480.90,147.33 481.40,145.55 481.90,145.33 482.40,146.27 482.90,143.79 483.40,143.78 483.90,144.61 484.40,143.56 484.90,142.12 485.40,141.15 485.90,140.94 486.40,139.56 486.90,137.38 487.40,135.45 487.90,134.71 488.40,132.69 488.90,130.76 489.40,131.28 489.90,128.15 490.40,127.65 490.90,126.53 491.40,126.28 491.90,123.83 492.40,123.02 492.90,121.04 493.40,121.28 493.90,120.37 494.40,119.54 494.90,117.66 495.40,117.51 495.90,116.10 496.40,115.68 496.90,115.27 497.40,115.62 497.90,114.45 498.40,115.16 498.90,115.26 499.40,116.39 499.90,117.37 500.40,118.91 500.90,121.12 501.40,121.92 501.90,125.05 502.40,126.02 502.90,128.73 503.40,130.19 503.90,132.40 504.40,134.38 504.90,137.30 505.40,139.08 505.90,142.60 506.40,145.65 506.90,149.05 507.40,152.92 507.90,153.50 508.40,156.46 508.90,159.32 509.40,162.80 509.90,163.32 510.40,165.85 510.90,167.85 511.40,168.17 511.90,169.53 512.40,171.93 512.90,171.89 513.40,172.93 513.90,175.43 514.40,176.00 514.90,178.41 515.40,179.18 515.90,178.91 516.40,181.05 516.90,181.63 517.40,181.84 517.90,183.48 518.40,182.38 518.90,183.45 519.40,184.76 519.90,186.44 520.40,185.93 520.90,187.29 521.40,187.94 521.90,188.01 522.40,189.18 522.90,189.18 523.40,190.02 523.90,190.85 524.40,190.50 524.90,190.88 525.40,191.17 525.90,191.64 526.40,191.60 526.90,192.21 527.40,193.34 527.90,193.04 528.40,195.76 528.90,193.45 529.40,194.25 529.90,193.06 530.40,193.79 530.90,193.59 531.40,193.84 531.90,194.65 532.40,193.70 532.90,193.02 533.40,193.77 533.90,193.06 534.40,193.49 534.90,194.42 535.40,193.92 535.90,193.86 536.40,193.39 536.90,192.91 537.40,191.84 537.90,192.33 538.40,192.15 538.90,192.75 539.40,192.82 539.90,192.41 540.40,191.55 540.90,193.08 541.40,192.76 541.90,191.72 542.40,191.91 542.90,192.12 543.40,191.72 543.90,191.52 544.40,191.77 544.90,191.33 545.40,191.23 545.90,189.88 546.40,189.58 546.90,191.26 547.40,188.96 547.90,189.82 548.40,189.38 548.90,189.00 549.40,188.16 549.90,188.93 550.40,188.33 550.90,187.77 551.40,187.02 551.90,187.62 552.40,187.30 552.90,186.81 553.40,187.72 553.90,187.76 554.40,187.84 554.90,187.35 555.40,187.06 555.90,187.84 556.40,187.56 556.90,188.43 557.40,187.32 557.90,186.37 558.40,187.45 558.90,188.23 559.40,186.98 559.90,186.73 560.40,186.54 560.90,188.13 561.40,186.98 561.90,187.08 562.40,187.55 562.90,186.66 563.40,187.49 563.90,187.03 564.40,187.83 564.90,188.31 565.40,188.65 565.90,187.91 566.40,188.72 566.90,188.05 567.40,187.35 567.90,188.75 568.40,188.34 568.90,188.58 569.40,186.99 569.90,188.75 570.40,188.83 570.90,188.89 571.40,189.44 571.90,188.66 572.40,190.25 572.90,189.48 573.40,189.46 573.90,187.72 574.40,188.14 574.90,190.32 575.40,189.76 575.90,190.20 576.40,189.52 576.90,189.79 577.40,190.33 577.90,189.62 578.40,191.01 578.90,189.67 579.40,190.59 579.90,190.41 580.40,190.91 580.90,191.56 581.40,190.26 581.90,191.32 582.40,191.23 582.90,191.77 583.40,191.35 583.90,191.18 584.40,191.88 584.90,192.48 585.40,192.28 585.90,191.99 586.40,192.25 586.90,191.18 587.40,191.88 587.90,192.15 588.40,192.08 588.90,192.08 589.40,192.57 589.90,192.93 590.40,193.95 590.90,192.45 591.40,192.41 591.90,193.64 592.40,193.22 592.90,192.68 593.40,194.22 593.90,193.25 594.40,193.26 594.90,193.17 595.40,193.06 595.90,193.75 596.40,193.19 596.90,195.31 597.40,194.11 597.90,193.83 598.40,193.58 598.90,194.27 599.40,194.77 599.90,194.38 600.40,193.61 600.90,194.22 601.40,193.40 601.90,195.34 602.40,194.95 602.90,194.73 603.40,194.84 603.90,194.39 604.40,194.70 604.90,195.41 605.40,194.86 605.90,195.29 606.40,195.11 606.90,195.15 607.40,195.23 607.90,195.69 608.40,194.91 608.90,195.51 609.40,194.64 609.90,194.78 610.40,194.72 610.90,195.68 611.40,195.00 611.90,195.93 612.40,194.60 612.90,195.45 613.40,194.54 613.90,195.91 614.40,194.83 614.90,195.53 615.40,194.85 615.90,194.81 616.40,195.42 616.90,194.24 617.40,194.56 617.90,196.18 618.40,194.77 618.90,195.75 619.40,194.73 619.90,194.25 620.40,194.97 620.90,195.72 621.40,195.17 621.90,194.98 622.40,195.65 622.90,194.66 623.40,195.53 623.90,195.26 624.40,194.44 624.90,195.58 625.40,195.67 625.90,194.83 626.40,195.01 626.90,194.74 627.40,194.20 627.90,195.32 628.40,194.20 628.90,195.08 629.40,194.41 629.90,194.07 630.40,195.01 630.90,194.74 631.40,195.66" fill="none" stroke="#000000" stroke-width="1.45" stroke-linejoin="round"/>
<path d="M367.40,218.62 367.90,220.29 368.40,220.11 368.90,222.27 369.40,223.14 369.90,222.70 370.40,223.70 370.90,224.02 371.40,224.02 371.90,224.09 372.40,223.71 372.90,226.05 373.40,225.43 373.90,227.19 374.40,226.38 374.90,226.25 375.40,225.87 375.90,227.27 376.40,226.29 376.90,227.69 377.40,226.65 377.90,227.13 378.40,226.23 378.90,228.67 379.40,227.32 379.90,227.25 380.40,228.07 380.90,227.16 381.40,228.26 381.90,227.20 382.40,228.34 382.90,227.49 383.40,227.11 383.90,227.95 384.40,227.52 384.90,228.81 385.40,228.57 385.90,228.93 386.40,228.74 386.90,228.52 387.40,228.78 387.90,229.42 388.40,228.69 388.90,228.34 389.40,228.19 389.90,228.61 390.40,228.25 390.90,229.78 391.40,227.88 391.90,227.87 392.40,228.26 392.90,228.75 393.40,228.12 393.90,227.62 394.40,227.62 394.90,227.81 395.40,228.51 395.90,227.24 396.40,227.67 396.90,227.24 397.40,227.68 397.90,227.60 398.40,226.34 398.90,228.51 399.40,227.04 399.90,226.47 400.40,226.08 400.90,226.29 401.40,226.30 401.90,226.46 402.40,225.93 402.90,226.04 403.40,224.61 403.90,224.94 404.40,224.59 404.90,225.08 405.40,225.04 405.90,223.66 406.40,224.20 406.90,224.49 407.40,224.36 407.90,222.89 408.40,223.64 408.90,223.25 409.40,222.54 409.90,223.73 410.40,221.63 410.90,221.89 411.40,222.08 411.90,221.70 412.40,221.20 412.90,221.88 413.40,221.66 413.90,221.08 414.40,220.87 414.90,219.97 415.40,219.03 415.90,220.76 416.40,218.58 416.90,220.20 417.40,218.49 417.90,218.39 418.40,217.83 418.90,218.18 419.40,216.98 419.90,218.05 420.40,216.93 420.90,216.37 421.40,215.58 421.90,215.74 422.40,215.22 422.90,216.01 423.40,215.07 423.90,213.22 424.40,214.71 424.90,212.00 425.40,213.97 425.90,211.52 426.40,212.26 426.90,212.34 427.40,211.43 427.90,210.33 428.40,211.28 428.90,209.00 429.40,208.71 429.90,209.93 430.40,208.08 430.90,208.25 431.40,208.09 431.90,207.03 432.40,206.75 432.90,206.13 433.40,205.66 433.90,205.71 434.40,205.02 434.90,204.13 435.40,203.96 435.90,202.57 436.40,201.94 436.90,201.30 437.40,201.87 437.90,201.88 438.40,200.46 438.90,198.72 439.40,199.07 439.90,199.10 440.40,198.44 440.90,197.76 441.40,197.76 441.90,197.22 442.40,195.41 442.90,196.04 443.40,194.91 443.90,195.09 444.40,195.34 444.90,195.38 445.40,194.46 445.90,193.55 446.40,193.47 446.90,193.84 447.40,192.81 447.90,193.28 448.40,193.67 448.90,193.98 449.40,193.52 449.90,194.27 450.40,195.24 450.90,195.02 451.40,194.32 451.90,196.07 452.40,196.74 452.90,197.01 453.40,197.99 453.90,197.86 454.40,200.32 454.90,200.68 455.40,200.97 455.90,202.28 456.40,203.06 456.90,203.35 457.40,203.18 457.90,203.97 458.40,207.73 458.90,206.60 459.40,207.72 459.90,208.75 460.40,208.65 460.90,210.01 461.40,209.10 461.90,210.33 462.40,209.00 462.90,210.89 463.40,211.04 463.90,210.98 464.40,211.07 464.90,211.17 465.40,211.66 465.90,211.88 466.40,210.90 466.90,212.27 467.40,211.25 467.90,212.12 468.40,212.10 468.90,212.81 469.40,212.64 469.90,213.45 470.40,213.32 470.90,213.47 471.40,215.13 471.90,215.33 472.40,215.85 472.90,216.71 473.40,216.11 473.90,217.92 474.40,217.39 474.90,218.96 475.40,219.34 475.90,220.33 476.40,221.25 476.90,221.44 477.40,221.44 477.90,223.09 478.40,223.75 478.90,223.95 479.40,224.61 479.90,223.36 480.40,224.86 480.90,225.11 481.40,224.35 481.90,225.92 482.40,226.17 482.90,225.57 483.40,226.28 483.90,227.17 484.40,227.84 484.90,228.26 485.40,227.53 485.90,227.88 486.40,228.52 486.90,229.06 487.40,228.95 487.90,229.32 488.40,229.92 488.90,229.90 489.40,229.55 489.90,228.75 490.40,229.09 490.90,229.66 491.40,229.78 491.90,229.82 492.40,228.46 492.90,228.74 493.40,228.19 493.90,227.01 494.40,227.95 494.90,227.36 495.40,229.06 495.90,228.32 496.40,227.48 496.90,227.76 497.40,227.86 497.90,228.55 498.40,227.85 498.90,228.19 499.40,227.46 499.90,227.85 500.40,227.84 500.90,227.44 501.40,226.82 501.90,227.38 502.40,226.42 502.90,227.46 503.40,226.38 503.90,226.10 504.40,227.61 504.90,226.20 505.40,226.52 505.90,225.75 506.40,225.95 506.90,226.14 507.40,225.72 507.90,227.03 508.40,225.84 508.90,225.51 509.40,226.91 509.90,226.65 510.40,224.82 510.90,225.87 511.40,226.80 511.90,225.74 512.40,226.05 512.90,226.10 513.40,224.94 513.90,225.84 514.40,226.92 514.90,227.42 515.40,226.61 515.90,226.70 516.40,227.21 516.90,227.09 517.40,227.41 517.90,226.70 518.40,227.38 518.90,227.82 519.40,228.04 519.90,226.91 520.40,228.51 520.90,228.26 521.40,228.46 521.90,227.47 522.40,228.71 522.90,227.89 523.40,227.48 523.90,229.22 524.40,229.32 524.90,229.52 525.40,229.74 525.90,229.78 526.40,230.56 526.90,230.49 527.40,231.06 527.90,231.68 528.40,230.71 528.90,230.80 529.40,231.53 529.90,229.92 530.40,230.29 530.90,230.67 531.40,229.59 531.90,231.03 532.40,231.19 532.90,229.17 533.40,229.04 533.90,229.62 534.40,229.40 534.90,227.10 535.40,227.94 535.90,227.02 536.40,225.54 536.90,225.87 537.40,225.22 537.90,225.04 538.40,224.38 538.90,223.55 539.40,222.96 539.90,222.25 540.40,221.90 540.90,221.33 541.40,220.42 541.90,218.35 542.40,217.44 542.90,216.55 543.40,216.88 543.90,215.45 544.40,213.90 544.90,212.86 545.40,212.16 545.90,212.01 546.40,210.58 546.90,210.51 547.40,210.63 547.90,209.01 548.40,209.05 548.90,207.04 549.40,207.62 549.90,207.05 550.40,205.82 550.90,206.72 551.40,205.42 551.90,204.56 552.40,204.35 552.90,204.66 553.40,202.82 553.90,203.30 554.40,202.19 554.90,202.47 555.40,201.60 555.90,201.49 556.40,201.64 556.90,200.89 557.40,200.93 557.90,200.77 558.40,200.36 558.90,200.03 559.40,199.72 559.90,199.90 560.40,200.08 560.90,200.33 561.40,200.16 561.90,198.40 562.40,199.06 562.90,199.08 563.40,199.43 563.90,199.28 564.40,197.75 564.90,198.77 565.40,197.64 565.90,198.50 566.40,198.38 566.90,198.76 567.40,200.29 567.90,199.23 568.40,199.46 568.90,200.04 569.40,200.84 569.90,199.43 570.40,201.70 570.90,200.55 571.40,200.70 571.90,201.65 572.40,202.26 572.90,203.75 573.40,202.95 573.90,202.33 574.40,202.85 574.90,202.69 575.40,203.94 575.90,204.34 576.40,203.94 576.90,205.11 577.40,203.72 577.90,204.75 578.40,204.80 578.90,205.31 579.40,205.01 579.90,206.89 580.40,206.07 580.90,206.88 581.40,208.00 581.90,208.57 582.40,208.63 582.90,206.89 583.40,208.35 583.90,208.62 584.40,208.71 584.90,208.94 585.40,209.37 585.90,210.34 586.40,210.00 586.90,209.75 587.40,209.90 587.90,211.23 588.40,210.40 588.90,212.15 589.40,211.74 589.90,212.04 590.40,212.78 590.90,212.74 591.40,213.69 591.90,212.80 592.40,212.78 592.90,215.35 593.40,214.57 593.90,213.20 594.40,216.06 594.90,214.47 595.40,216.83 595.90,216.96 596.40,216.67 596.90,216.41 597.40,216.15 597.90,217.51 598.40,216.95 598.90,218.10 599.40,217.53 599.90,216.99 600.40,217.75 600.90,218.43 601.40,218.33 601.90,218.93 602.40,218.52 602.90,220.28 603.40,219.23 603.90,220.11 604.40,219.04 604.90,220.82 605.40,221.55 605.90,221.28 606.40,221.08 606.90,220.98 607.40,222.23 607.90,222.54 608.40,221.73 608.90,222.84 609.40,223.47 609.90,222.98 610.40,224.12 610.90,223.89 611.40,225.25 611.90,223.92 612.40,225.31 612.90,225.37 613.40,224.46 613.90,225.30 614.40,225.60 614.90,226.91 615.40,226.33 615.90,226.72 616.40,226.98 616.90,228.59 617.40,227.03 617.90,228.47 618.40,227.32 618.90,226.61 619.40,227.20 619.90,227.08 620.40,227.75 620.90,227.25 621.40,227.76 621.90,229.65 622.40,228.84 622.90,229.10 623.40,230.19 623.90,228.28 624.40,229.78 624.90,229.30 625.40,229.69 625.90,229.38 626.40,229.92 626.90,230.65 627.40,230.69 627.90,230.16 628.40,230.56 628.90,229.38 629.40,228.38 629.90,230.79 630.40,231.41 630.90,230.48 631.40,229.83" fill="none" stroke="#0f8a0f" stroke-width="1.6" stroke-linejoin="round"/>
<rect x="33.05" y="1.4" width="264.3" height="230.5" fill="none" stroke="#3a3a3a" stroke-width="1.35"/>
<path d="M367.6,0.6 V231.2 H631.5 V0.6" fill="none" stroke="#3a3a3a" stroke-width="1.3"/>
<line x1="367" y1="0.4" x2="632.1" y2="0.4" stroke="#8a8a8a" stroke-width="1.2"/>
<line x1="44.56" y1="231.9" x2="44.56" y2="227.70000000000002" stroke="#3a3a3a" stroke-width="1.1"/>
<line x1="44.56" y1="1.4" x2="44.56" y2="5.6" stroke="#3a3a3a" stroke-width="1.1"/>
<line x1="68.68" y1="231.9" x2="68.68" y2="229.5" stroke="#3a3a3a" stroke-width="1.1"/>
<line x1="68.68" y1="1.4" x2="68.68" y2="3.8" stroke="#3a3a3a" stroke-width="1.1"/>
<line x1="92.81" y1="231.9" x2="92.81" y2="227.70000000000002" stroke="#3a3a3a" stroke-width="1.1"/>
<line x1="92.81" y1="1.4" x2="92.81" y2="5.6" stroke="#3a3a3a" stroke-width="1.1"/>
<line x1="116.94" y1="231.9" x2="116.94" y2="229.5" stroke="#3a3a3a" stroke-width="1.1"/>
<line x1="116.94" y1="1.4" x2="116.94" y2="3.8" stroke="#3a3a3a" stroke-width="1.1"/>
<line x1="141.07" y1="231.9" x2="141.07" y2="227.70000000000002" stroke="#3a3a3a" stroke-width="1.1"/>
<line x1="141.07" y1="1.4" x2="141.07" y2="5.6" stroke="#3a3a3a" stroke-width="1.1"/>
<line x1="165.20" y1="231.9" x2="165.20" y2="229.5" stroke="#3a3a3a" stroke-width="1.1"/>
<line x1="165.20" y1="1.4" x2="165.20" y2="3.8" stroke="#3a3a3a" stroke-width="1.1"/>
<line x1="189.32" y1="231.9" x2="189.32" y2="227.70000000000002" stroke="#3a3a3a" stroke-width="1.1"/>
<line x1="189.32" y1="1.4" x2="189.32" y2="5.6" stroke="#3a3a3a" stroke-width="1.1"/>
<line x1="213.45" y1="231.9" x2="213.45" y2="229.5" stroke="#3a3a3a" stroke-width="1.1"/>
<line x1="213.45" y1="1.4" x2="213.45" y2="3.8" stroke="#3a3a3a" stroke-width="1.1"/>
<line x1="237.58" y1="231.9" x2="237.58" y2="227.70000000000002" stroke="#3a3a3a" stroke-width="1.1"/>
<line x1="237.58" y1="1.4" x2="237.58" y2="5.6" stroke="#3a3a3a" stroke-width="1.1"/>
<line x1="261.71" y1="231.9" x2="261.71" y2="229.5" stroke="#3a3a3a" stroke-width="1.1"/>
<line x1="261.71" y1="1.4" x2="261.71" y2="3.8" stroke="#3a3a3a" stroke-width="1.1"/>
<line x1="285.84" y1="231.9" x2="285.84" y2="227.70000000000002" stroke="#3a3a3a" stroke-width="1.1"/>
<line x1="285.84" y1="1.4" x2="285.84" y2="5.6" stroke="#3a3a3a" stroke-width="1.1"/>
<text x="44.56" y="247.3" font-family="Liberation Serif" stroke="#000" stroke-width="0.22" font-size="13.2" text-anchor="middle" fill="#000">200</text>
<text x="92.81" y="247.3" font-family="Liberation Serif" stroke="#000" stroke-width="0.22" font-size="13.2" text-anchor="middle" fill="#000">400</text>
<text x="141.07" y="247.3" font-family="Liberation Serif" stroke="#000" stroke-width="0.22" font-size="13.2" text-anchor="middle" fill="#000">600</text>
<text x="189.32" y="247.3" font-family="Liberation Serif" stroke="#000" stroke-width="0.22" font-size="13.2" text-anchor="middle" fill="#000">800</text>
<text x="237.58" y="247.3" font-family="Liberation Serif" stroke="#000" stroke-width="0.22" font-size="13.2" text-anchor="middle" fill="#000">1000</text>
<text x="285.84" y="247.3" font-family="Liberation Serif" stroke="#000" stroke-width="0.22" font-size="13.2" text-anchor="middle" fill="#000">1200</text>
<line x1="379.40" y1="231.2" x2="379.40" y2="227.0" stroke="#3a3a3a" stroke-width="1.1"/>
<line x1="379.40" y1="0.6" x2="379.40" y2="4.8" stroke="#3a3a3a" stroke-width="1.1"/>
<line x1="403.43" y1="231.2" x2="403.43" y2="228.79999999999998" stroke="#3a3a3a" stroke-width="1.1"/>
<line x1="403.43" y1="0.6" x2="403.43" y2="3.0" stroke="#3a3a3a" stroke-width="1.1"/>
<line x1="427.46" y1="231.2" x2="427.46" y2="227.0" stroke="#3a3a3a" stroke-width="1.1"/>
<line x1="427.46" y1="0.6" x2="427.46" y2="4.8" stroke="#3a3a3a" stroke-width="1.1"/>
<line x1="451.49" y1="231.2" x2="451.49" y2="228.79999999999998" stroke="#3a3a3a" stroke-width="1.1"/>
<line x1="451.49" y1="0.6" x2="451.49" y2="3.0" stroke="#3a3a3a" stroke-width="1.1"/>
<line x1="475.52" y1="231.2" x2="475.52" y2="227.0" stroke="#3a3a3a" stroke-width="1.1"/>
<line x1="475.52" y1="0.6" x2="475.52" y2="4.8" stroke="#3a3a3a" stroke-width="1.1"/>
<line x1="499.55" y1="231.2" x2="499.55" y2="228.79999999999998" stroke="#3a3a3a" stroke-width="1.1"/>
<line x1="499.55" y1="0.6" x2="499.55" y2="3.0" stroke="#3a3a3a" stroke-width="1.1"/>
<line x1="523.58" y1="231.2" x2="523.58" y2="227.0" stroke="#3a3a3a" stroke-width="1.1"/>
<line x1="523.58" y1="0.6" x2="523.58" y2="4.8" stroke="#3a3a3a" stroke-width="1.1"/>
<line x1="547.61" y1="231.2" x2="547.61" y2="228.79999999999998" stroke="#3a3a3a" stroke-width="1.1"/>
<line x1="547.61" y1="0.6" x2="547.61" y2="3.0" stroke="#3a3a3a" stroke-width="1.1"/>
<line x1="571.64" y1="231.2" x2="571.64" y2="227.0" stroke="#3a3a3a" stroke-width="1.1"/>
<line x1="571.64" y1="0.6" x2="571.64" y2="4.8" stroke="#3a3a3a" stroke-width="1.1"/>
<line x1="595.67" y1="231.2" x2="595.67" y2="228.79999999999998" stroke="#3a3a3a" stroke-width="1.1"/>
<line x1="595.67" y1="0.6" x2="595.67" y2="3.0" stroke="#3a3a3a" stroke-width="1.1"/>
<line x1="619.70" y1="231.2" x2="619.70" y2="227.0" stroke="#3a3a3a" stroke-width="1.1"/>
<line x1="619.70" y1="0.6" x2="619.70" y2="4.8" stroke="#3a3a3a" stroke-width="1.1"/>
<text x="379.40" y="247.3" font-family="Liberation Serif" stroke="#000" stroke-width="0.22" font-size="13.2" text-anchor="middle" fill="#000">200</text>
<text x="427.46" y="247.3" font-family="Liberation Serif" stroke="#000" stroke-width="0.22" font-size="13.2" text-anchor="middle" fill="#000">400</text>
<text x="475.52" y="247.3" font-family="Liberation Serif" stroke="#000" stroke-width="0.22" font-size="13.2" text-anchor="middle" fill="#000">600</text>
<text x="523.58" y="247.3" font-family="Liberation Serif" stroke="#000" stroke-width="0.22" font-size="13.2" text-anchor="middle" fill="#000">800</text>
<text x="571.64" y="247.3" font-family="Liberation Serif" stroke="#000" stroke-width="0.22" font-size="13.2" text-anchor="middle" fill="#000">1000</text>
<text x="619.70" y="247.3" font-family="Liberation Serif" stroke="#000" stroke-width="0.22" font-size="13.2" text-anchor="middle" fill="#000">1200</text>
<text x="161" y="274" font-family="Liberation Serif" stroke="#000" stroke-width="0.22" font-size="17.6" text-anchor="middle" fill="#000">Wavenumber (cm<tspan font-size="11.5" dy="-7">-1</tspan><tspan dy="7">)</tspan></text>
<text x="499.5" y="274.3" font-family="Liberation Serif" stroke="#000" stroke-width="0.22" font-size="17.6" text-anchor="middle" fill="#000">Wavenumber (cm<tspan font-size="11.5" dy="-7">-1</tspan><tspan dy="7">)</tspan></text>
<text transform="translate(13.8,109) rotate(-90)" font-family="Liberation Serif" stroke="#000" stroke-width="0.22" font-size="17.4" text-anchor="middle" fill="#000">Intensity (Arb. Units)</text>
<text x="40.5" y="26" font-family="Liberation Serif" stroke="#000" stroke-width="0.22" font-size="19" fill="#000">(a)</text>
<text x="374.3" y="25.3" font-family="Liberation Serif" stroke="#000" stroke-width="0.22" font-size="19.5" fill="#000">(b)</text>
<text x="46.3" y="49.0" font-family="Liberation Sans" font-size="6.6" font-weight="bold" font-style="italic" fill="#a3121a" stroke="#a3121a" stroke-width="0.12">Aug,323</text>
<text x="46.7" y="56.900000000000006" font-family="Liberation Sans" font-size="10" font-weight="bold" font-style="italic" fill="#a3121a" stroke="#a3121a" stroke-width="0.2">A<tspan font-size="7" dx="0.1" dy="3">1g</tspan></text>
<text x="87.8" y="45.4" font-family="Liberation Sans" font-size="6.6" font-weight="bold" font-style="italic" fill="#a3121a" stroke="#a3121a" stroke-width="0.12">Aug,390</text>
<text x="88.0" y="53.7" font-family="Liberation Sans" font-size="10" font-weight="bold" font-style="italic" fill="#a3121a" stroke="#a3121a" stroke-width="0.2">A<tspan font-size="7" dx="0.1" dy="3">1g</tspan></text>
<text x="123.8" y="37.9" font-family="Liberation Sans" font-size="6.6" font-weight="bold" font-style="italic" fill="#a3121a" stroke="#a3121a" stroke-width="0.12">Aug,534</text>
<text x="124.0" y="46.300000000000004" font-family="Liberation Sans" font-size="10" font-weight="bold" font-style="italic" fill="#a3121a" stroke="#a3121a" stroke-width="0.2">A<tspan font-size="7" dx="0.1" dy="3">1g</tspan></text>
<text x="162.6" y="20.0" font-family="Liberation Sans" font-size="6.6" font-weight="bold" font-style="italic" fill="#a3121a" stroke="#a3121a" stroke-width="0.12">Aug,666</text>
<text x="162.8" y="28.5" font-family="Liberation Sans" font-size="10" font-weight="bold" font-style="italic" fill="#a3121a" stroke="#a3121a" stroke-width="0.2">A<tspan font-size="7" dx="0.1" dy="3">1g</tspan></text>
<text x="185.2" y="70.4" font-family="Liberation Sans" font-size="6.6" font-weight="bold" font-style="italic" fill="#a3121a" stroke="#a3121a" stroke-width="0.12">Aug,765</text>
<text x="185.4" y="79.2" font-family="Liberation Sans" font-size="10" font-weight="bold" font-style="italic" fill="#a3121a" stroke="#a3121a" stroke-width="0.2">A<tspan font-size="7" dx="0.1" dy="3">1g</tspan></text>
<text x="241.1" y="64.7" font-family="Liberation Sans" font-size="6.6" font-weight="bold" font-style="italic" fill="#a3121a" stroke="#a3121a" stroke-width="0.12">Aug,1003</text>
<text x="241.3" y="73.3" font-family="Liberation Sans" font-size="10" font-weight="bold" font-style="italic" fill="#a3121a" stroke="#a3121a" stroke-width="0.2">A<tspan font-size="7" dx="0.1" dy="3">1g</tspan></text>
<text x="415.6" y="142.20000000000002" font-family="Liberation Sans" font-size="6.6" font-weight="bold" font-style="italic" fill="#555" stroke="#555" stroke-width="0.12">Mag,335</text>
<text x="417.0" y="150.39999999999998" font-family="Liberation Sans" font-size="9.2" font-weight="bold" font-style="italic" fill="#555" stroke="#555" stroke-width="0.2">E<tspan font-size="7" dx="0.1" dy="3">g</tspan></text>
<text x="450.9" y="137.4" font-family="Liberation Sans" font-size="6.6" font-weight="bold" font-style="italic" fill="#555" stroke="#555" stroke-width="0.12">Mag,480</text>
<text x="452.2" y="145.29999999999998" font-family="Liberation Sans" font-size="9.2" font-weight="bold" font-style="italic" fill="#555" stroke="#555" stroke-width="0.2">T<tspan font-size="7" dx="0.1" dy="3">2g</tspan></text>
<text x="481.3" y="164.9" font-family="Liberation Sans" font-size="6.6" font-weight="bold" font-style="italic" fill="#555" stroke="#555" stroke-width="0.12">Mag,690</text>
<text x="481.3" y="173.6" font-family="Liberation Sans" font-size="9.2" font-weight="bold" font-style="italic" fill="#555" stroke="#555" stroke-width="0.2">A<tspan font-size="7" dx="0.1" dy="3">1g</tspan></text>
<text transform="translate(263.3,83.0) rotate(29)" font-family="Liberation Sans" font-size="9.8" font-weight="normal" font-style="italic" fill="#a3a3a3" stroke="#a3a3a3" stroke-width="0.15">B3_180</text>
<text transform="translate(264.8,109.5) rotate(32)" font-family="Liberation Sans" font-size="9.8" font-weight="normal" font-style="italic" fill="#666" stroke="#666" stroke-width="0.15">B3_60</text>
<text transform="translate(263.3,135.6) rotate(29)" font-family="Liberation Sans" font-size="9.8" font-weight="bold" font-style="italic" fill="#333" stroke="#333" stroke-width="0.3">B3_30</text>
<text transform="translate(264.8,161.4) rotate(29)" font-family="Liberation Sans" font-size="9.8" font-weight="bold" font-style="italic" fill="#000" stroke="#000" stroke-width="0.3">B3_10</text>
<text transform="translate(270.8,191.5) rotate(29)" font-family="Liberation Sans" font-size="9.8" font-weight="bold" font-style="italic" fill="#000" stroke="#000" stroke-width="0.3">B3_5</text>
<text transform="translate(278.8,220.4) rotate(29)" font-family="Liberation Sans" font-size="9.8" font-weight="bold" font-style="italic" fill="#0f8a0f" stroke="#0f8a0f" stroke-width="0.3">B3</text>
<text transform="translate(589.8,133.7) rotate(29)" font-family="Liberation Sans" font-size="9.8" font-weight="bold" font-style="italic" fill="#f01010" stroke="#f01010" stroke-width="0.3">B3_180+</text>
<text transform="translate(592.3,173.7) rotate(29)" font-family="Liberation Sans" font-size="9.8" font-weight="bold" font-style="italic" fill="#000" stroke="#000" stroke-width="0.3">B3_60m</text>
<text transform="translate(612.8,219.2) rotate(29)" font-family="Liberation Sans" font-size="9.8" font-weight="bold" font-style="italic" fill="#0f8a0f" stroke="#0f8a0f" stroke-width="0.3">B3</text>
<text x="302.6" y="104.5" font-family="Liberation Serif" stroke="#000" stroke-width="0.22" font-size="13" fill="#000">180</text>
<text x="302.6" y="129.5" font-family="Liberation Serif" stroke="#000" stroke-width="0.22" font-size="13" fill="#000">60</text>
<text x="302.6" y="156.3" font-family="Liberation Serif" stroke="#000" stroke-width="0.22" font-size="13" fill="#000">30</text>
<text x="302.6" y="183.4" font-family="Liberation Serif" stroke="#000" stroke-width="0.22" font-size="13" fill="#000">10</text>
<text x="302.6" y="209.3" font-family="Liberation Serif" stroke="#000" stroke-width="0.22" font-size="13" fill="#000">5</text>
<text x="302.2" y="229.7" font-family="Liberation Sans" font-size="13.2" font-weight="bold" font-style="italic" fill="#0f8a0f">glass</text>
<text x="636.3" y="229.8" font-family="Liberation Sans" font-size="13.2" font-weight="bold" font-style="italic" fill="#0f8a0f">glass</text>
<line x1="320.1" y1="207.6" x2="332.3" y2="96" stroke="#111" stroke-width="1"/>
<path d="M333,90.5 L330.2,99 L335,99.5 Z" fill="#000"/>
<text transform="translate(334.5,107.5) rotate(96.3)" font-family="Liberation Serif" stroke="#000" stroke-width="0.22" font-size="15.7" fill="#000">min. at 850 °C</text>
<text x="637.2" y="174.4" font-family="Liberation Serif" stroke="#000" stroke-width="0.22" font-size="13" fill="#000">60 + 180</text>
<text x="637.2" y="198.2" font-family="Liberation Serif" stroke="#000" stroke-width="0.22" font-size="13" fill="#000">60</text>
<text transform="translate(639.8,90.8) rotate(90)" font-family="Liberation Serif" stroke="#000" stroke-width="0.08" font-size="11.3" fill="#000">min. at 750 °C</text>
<text transform="translate(670.0,90.8) rotate(90)" font-family="Liberation Serif" stroke="#000" stroke-width="0.08" font-size="11.3" fill="#000">min. at 850 °C</text>
</svg></body></html>
